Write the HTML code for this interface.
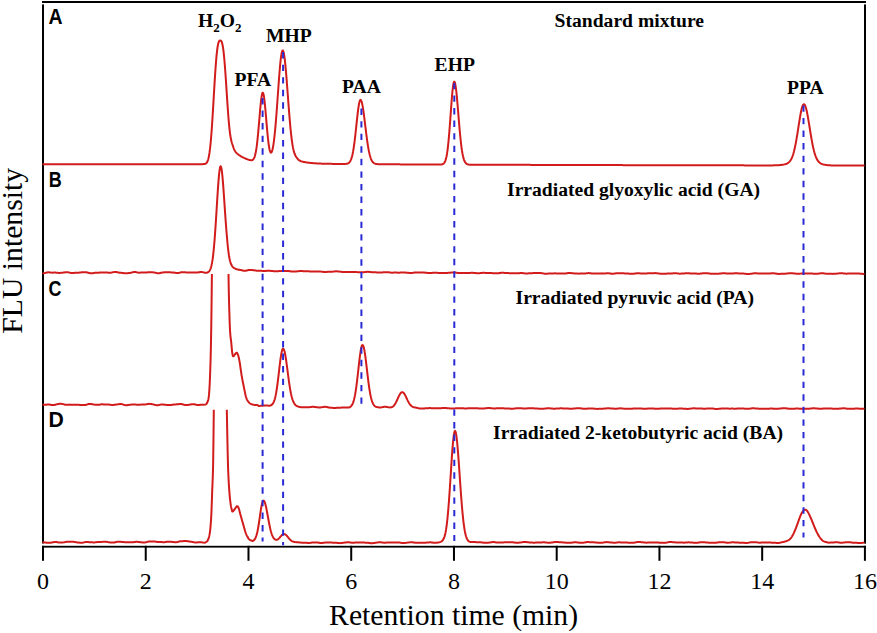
<!DOCTYPE html>
<html><head><meta charset="utf-8"><title>Chromatograms</title>
<style>html,body{margin:0;padding:0;background:#fff;}svg{display:block;}</style>
</head><body>
<svg width="877" height="633" viewBox="0 0 877 633">
<rect width="877" height="633" fill="#fff"/>
<g fill="#000">
<rect x="42" y="1" width="824" height="2"/>
<rect x="42" y="4.4" width="2" height="539.1"/>
<rect x="864" y="4.4" width="2" height="539.2"/>
<rect x="42" y="545.8" width="824" height="1.8"/>
<rect x="42.00" y="545.8" width="2" height="15"/>
<rect x="144.74" y="545.8" width="2" height="15"/>
<rect x="247.48" y="545.8" width="2" height="15"/>
<rect x="350.22" y="545.8" width="2" height="15"/>
<rect x="452.96" y="545.8" width="2" height="15"/>
<rect x="555.70" y="545.8" width="2" height="15"/>
<rect x="658.44" y="545.8" width="2" height="15"/>
<rect x="761.18" y="545.8" width="2" height="15"/>
<rect x="863.92" y="545.8" width="2" height="15"/>
</g>
<g fill="none" stroke="#d21c1c" stroke-width="2" stroke-linejoin="round" stroke-linecap="butt">
<path d="M42.50 164.20 L43.00 164.20 L43.50 164.20 L44.00 164.20 L44.50 164.20 L45.00 164.20 L45.50 164.20 L46.00 164.20 L46.50 164.20 L47.00 164.20 L47.50 164.20 L48.00 164.20 L48.50 164.20 L49.00 164.20 L49.50 164.20 L50.00 164.20 L50.50 164.20 L51.00 164.20 L51.50 164.20 L52.00 164.20 L52.50 164.20 L53.00 164.20 L53.50 164.20 L54.00 164.20 L54.50 164.20 L55.00 164.20 L55.50 164.20 L56.00 164.19 L56.50 164.19 L57.00 164.19 L57.50 164.19 L58.00 164.19 L58.50 164.19 L59.00 164.19 L59.50 164.19 L60.00 164.19 L60.50 164.19 L61.00 164.19 L61.50 164.19 L62.00 164.19 L62.50 164.19 L63.00 164.19 L63.50 164.19 L64.00 164.19 L64.50 164.19 L65.00 164.19 L65.50 164.19 L66.00 164.19 L66.50 164.19 L67.00 164.19 L67.50 164.19 L68.00 164.19 L68.50 164.19 L69.00 164.19 L69.50 164.19 L70.00 164.19 L70.50 164.19 L71.00 164.19 L71.50 164.19 L72.00 164.19 L72.50 164.19 L73.00 164.19 L73.50 164.19 L74.00 164.19 L74.50 164.19 L75.00 164.19 L75.50 164.19 L76.00 164.19 L76.50 164.19 L77.00 164.19 L77.50 164.19 L78.00 164.19 L78.50 164.19 L79.00 164.19 L79.50 164.19 L80.00 164.19 L80.50 164.19 L81.00 164.19 L81.50 164.19 L82.00 164.18 L82.50 164.18 L83.00 164.18 L83.50 164.18 L84.00 164.18 L84.50 164.18 L85.00 164.18 L85.50 164.18 L86.00 164.18 L86.50 164.18 L87.00 164.18 L87.50 164.18 L88.00 164.18 L88.50 164.18 L89.00 164.18 L89.50 164.18 L90.00 164.18 L90.50 164.18 L91.00 164.18 L91.50 164.18 L92.00 164.18 L92.50 164.18 L93.00 164.18 L93.50 164.18 L94.00 164.18 L94.50 164.18 L95.00 164.18 L95.50 164.18 L96.00 164.18 L96.50 164.18 L97.00 164.18 L97.50 164.18 L98.00 164.18 L98.50 164.18 L99.00 164.18 L99.50 164.18 L100.00 164.18 L100.50 164.18 L101.00 164.18 L101.50 164.18 L102.00 164.18 L102.50 164.18 L103.00 164.18 L103.50 164.18 L104.00 164.18 L104.50 164.18 L105.00 164.18 L105.50 164.18 L106.00 164.18 L106.50 164.18 L107.00 164.18 L107.50 164.17 L108.00 164.17 L108.50 164.17 L109.00 164.17 L109.50 164.17 L110.00 164.17 L110.50 164.17 L111.00 164.17 L111.50 164.17 L112.00 164.17 L112.50 164.17 L113.00 164.17 L113.50 164.17 L114.00 164.17 L114.50 164.17 L115.00 164.17 L115.50 164.17 L116.00 164.17 L116.50 164.17 L117.00 164.17 L117.50 164.17 L118.00 164.17 L118.50 164.17 L119.00 164.17 L119.50 164.17 L120.00 164.17 L120.50 164.17 L121.00 164.17 L121.50 164.17 L122.00 164.17 L122.50 164.17 L123.00 164.17 L123.50 164.17 L124.00 164.17 L124.50 164.17 L125.00 164.17 L125.50 164.17 L126.00 164.17 L126.50 164.17 L127.00 164.17 L127.50 164.17 L128.00 164.17 L128.50 164.17 L129.00 164.17 L129.50 164.17 L130.00 164.17 L130.50 164.17 L131.00 164.17 L131.50 164.17 L132.00 164.17 L132.50 164.17 L133.00 164.16 L133.50 164.16 L134.00 164.16 L134.50 164.16 L135.00 164.16 L135.50 164.16 L136.00 164.16 L136.50 164.16 L137.00 164.16 L137.50 164.16 L138.00 164.16 L138.50 164.16 L139.00 164.16 L139.50 164.16 L140.00 164.16 L140.50 164.16 L141.00 164.16 L141.50 164.16 L142.00 164.16 L142.50 164.16 L143.00 164.16 L143.50 164.16 L144.00 164.16 L144.50 164.16 L145.00 164.16 L145.50 164.16 L146.00 164.16 L146.50 164.16 L147.00 164.16 L147.50 164.16 L148.00 164.16 L148.50 164.16 L149.00 164.16 L149.50 164.16 L150.00 164.16 L150.50 164.16 L151.00 164.16 L151.50 164.16 L152.00 164.16 L152.50 164.16 L153.00 164.16 L153.50 164.16 L154.00 164.16 L154.50 164.16 L155.00 164.16 L155.50 164.16 L156.00 164.16 L156.50 164.16 L157.00 164.16 L157.50 164.16 L158.00 164.16 L158.50 164.16 L159.00 164.15 L159.50 164.15 L160.00 164.15 L160.50 164.15 L161.00 164.15 L161.50 164.15 L162.00 164.15 L162.50 164.15 L163.00 164.15 L163.50 164.15 L164.00 164.15 L164.50 164.15 L165.00 164.15 L165.50 164.15 L166.00 164.15 L166.50 164.15 L167.00 164.15 L167.50 164.15 L168.00 164.15 L168.50 164.15 L169.00 164.15 L169.50 164.15 L170.00 164.15 L170.50 164.15 L171.00 164.15 L171.50 164.15 L172.00 164.15 L172.50 164.15 L173.00 164.15 L173.50 164.15 L174.00 164.15 L174.50 164.15 L175.00 164.15 L175.50 164.15 L176.00 164.15 L176.50 164.15 L177.00 164.15 L177.50 164.15 L178.00 164.15 L178.50 164.15 L179.00 164.15 L179.50 164.15 L180.00 164.15 L180.50 164.15 L181.00 164.15 L181.50 164.15 L182.00 164.15 L182.50 164.15 L183.00 164.15 L183.50 164.15 L184.00 164.15 L184.50 164.14 L185.00 164.14 L185.50 164.14 L186.00 164.14 L186.50 164.14 L187.00 164.14 L187.50 164.14 L188.00 164.14 L188.50 164.14 L189.00 164.14 L189.50 164.14 L190.00 164.14 L190.50 164.14 L191.00 164.14 L191.50 164.14 L192.00 164.14 L192.50 164.14 L193.00 164.14 L193.50 164.14 L194.00 164.14 L194.50 164.14 L195.00 164.14 L195.50 164.14 L196.00 164.14 L196.50 164.14 L197.00 164.14 L197.50 164.14 L198.00 164.14 L198.50 164.14 L199.00 164.14 L199.50 164.14 L200.00 164.14 L200.50 164.14 L201.00 164.14 L201.50 164.14 L202.00 164.13 L202.50 164.13 L203.00 164.11 L203.50 164.09 L204.00 164.05 L204.50 163.99 L205.00 163.87 L205.50 163.69 L206.00 163.40 L206.50 162.95 L207.00 162.29 L207.50 161.33 L208.00 160.00 L208.50 158.19 L209.00 155.80 L209.50 152.74 L210.00 148.92 L210.50 144.29 L211.00 138.82 L211.50 132.52 L212.00 125.47 L212.50 117.77 L213.00 109.59 L213.50 101.11 L214.00 92.56 L214.50 84.16 L215.00 76.14 L215.50 68.70 L216.00 62.01 L216.50 56.20 L217.00 51.35 L217.50 47.48 L218.00 44.58 L218.50 42.57 L219.00 41.33 L219.50 40.72 L220.00 40.54 L220.50 40.55 L221.00 40.77 L221.50 41.43 L222.00 42.69 L222.50 44.67 L223.00 47.49 L223.50 51.20 L224.00 55.80 L224.50 61.26 L225.00 67.51 L225.50 74.40 L226.00 81.77 L226.50 89.41 L227.00 97.10 L227.50 104.60 L228.00 111.71 L228.50 118.24 L229.00 124.04 L229.50 129.05 L230.00 133.23 L230.50 136.62 L231.00 139.32 L231.50 141.47 L232.00 143.20 L232.50 144.68 L233.00 146.04 L233.50 147.73 L234.00 149.08 L234.50 150.16 L235.00 151.04 L235.50 151.76 L236.00 152.37 L236.50 152.91 L237.00 153.39 L237.50 153.82 L238.00 154.23 L238.50 154.61 L239.00 154.98 L239.50 155.33 L240.00 155.66 L240.50 155.98 L241.00 156.29 L241.50 156.58 L242.00 156.87 L242.50 157.14 L243.00 157.40 L243.50 157.66 L244.00 157.90 L244.50 158.13 L245.00 158.36 L245.50 158.58 L246.00 158.79 L246.50 158.99 L247.00 159.18 L247.50 159.36 L248.00 159.54 L248.50 159.70 L249.00 159.86 L249.50 159.99 L250.00 160.11 L250.50 160.20 L251.00 160.25 L251.50 160.24 L252.00 160.16 L252.50 159.96 L253.00 159.62 L253.50 159.07 L254.00 158.27 L254.50 157.14 L255.00 155.61 L255.50 153.60 L256.00 151.04 L256.50 147.89 L257.00 144.09 L257.50 139.67 L258.00 134.66 L258.50 129.17 L259.00 123.33 L259.50 117.35 L260.00 111.47 L260.50 105.96 L261.00 101.10 L261.50 97.15 L262.00 94.35 L262.50 92.85 L263.00 92.76 L263.50 94.07 L264.00 96.71 L264.50 100.52 L265.00 105.28 L265.50 110.73 L266.00 116.58 L266.50 122.55 L267.00 128.38 L267.50 133.84 L268.00 138.77 L268.50 143.02 L269.00 146.53 L269.50 149.24 L270.00 151.15 L270.50 152.28 L271.00 152.65 L271.50 152.29 L272.00 151.23 L272.50 149.49 L273.00 147.09 L273.50 144.05 L274.00 140.38 L274.50 136.09 L275.00 131.22 L275.50 125.79 L276.00 119.85 L276.50 113.47 L277.00 106.76 L277.50 99.80 L278.00 92.74 L278.50 85.73 L279.00 78.92 L279.50 72.48 L280.00 66.60 L280.50 61.42 L281.00 57.10 L281.50 53.78 L282.00 51.55 L282.50 50.48 L283.00 50.59 L283.50 51.79 L284.00 54.04 L284.50 57.28 L285.00 61.40 L285.50 66.31 L286.00 71.87 L286.50 77.95 L287.00 84.38 L287.50 91.04 L288.00 97.77 L288.50 104.44 L289.00 110.92 L289.50 117.13 L290.00 122.96 L290.50 128.35 L291.00 133.26 L291.50 137.64 L292.00 141.50 L292.50 144.82 L293.00 147.64 L293.50 149.99 L294.00 151.92 L294.50 153.49 L295.00 154.75 L295.50 155.77 L296.00 156.61 L296.50 157.33 L297.00 157.97 L297.50 158.69 L298.00 159.27 L298.50 159.76 L299.00 160.16 L299.50 160.49 L300.00 160.76 L300.50 161.00 L301.00 161.20 L301.50 161.37 L302.00 161.52 L302.50 161.66 L303.00 161.78 L303.50 161.90 L304.00 162.00 L304.50 162.10 L305.00 162.19 L305.50 162.27 L306.00 162.36 L306.50 162.43 L307.00 162.50 L307.50 162.57 L308.00 162.64 L308.50 162.70 L309.00 162.76 L309.50 162.82 L310.00 162.88 L310.50 162.93 L311.00 162.98 L311.50 163.03 L312.00 163.07 L312.50 163.11 L313.00 163.16 L313.50 163.20 L314.00 163.23 L314.50 163.27 L315.00 163.30 L315.50 163.34 L316.00 163.37 L316.50 163.40 L317.00 163.43 L317.50 163.45 L318.00 163.48 L318.50 163.50 L319.00 163.53 L319.50 163.55 L320.00 163.57 L320.50 163.59 L321.00 163.61 L321.50 163.63 L322.00 163.65 L322.50 163.67 L323.00 163.68 L323.50 163.70 L324.00 163.71 L324.50 163.73 L325.00 163.74 L325.50 163.75 L326.00 163.76 L326.50 163.78 L327.00 163.79 L327.50 163.80 L328.00 163.81 L328.50 163.82 L329.00 163.83 L329.50 163.83 L330.00 163.84 L330.50 163.85 L331.00 163.86 L331.50 163.86 L332.00 163.87 L332.50 163.88 L333.00 163.88 L333.50 163.89 L334.00 163.89 L334.50 163.90 L335.00 163.90 L335.50 163.91 L336.00 163.91 L336.50 163.92 L337.00 163.92 L337.50 163.92 L338.00 163.93 L338.50 163.93 L339.00 163.93 L339.50 163.94 L340.00 163.94 L340.50 163.94 L341.00 163.94 L341.50 163.95 L342.00 163.95 L342.50 163.95 L343.00 163.95 L343.50 163.94 L344.00 163.94 L344.50 163.93 L345.00 163.91 L345.50 163.88 L346.00 163.84 L346.50 163.77 L347.00 163.68 L347.50 163.54 L348.00 163.35 L348.50 163.08 L349.00 162.71 L349.50 162.21 L350.00 161.55 L350.50 160.69 L351.00 159.60 L351.50 158.21 L352.00 156.50 L352.50 154.43 L353.00 151.95 L353.50 149.06 L354.00 145.74 L354.50 142.01 L355.00 137.91 L355.50 133.50 L356.00 128.87 L356.50 124.14 L357.00 119.44 L357.50 114.92 L358.00 110.74 L358.50 107.05 L359.00 104.01 L359.50 101.74 L360.00 100.34 L360.50 99.87 L361.00 100.23 L361.50 101.31 L362.00 103.07 L362.50 105.44 L363.00 108.36 L363.50 111.72 L364.00 115.44 L364.50 119.41 L365.00 123.51 L365.50 127.65 L366.00 131.74 L366.50 135.69 L367.00 139.45 L367.50 142.95 L368.00 146.16 L368.50 149.05 L369.00 151.63 L369.50 153.88 L370.00 155.82 L370.50 157.47 L371.00 158.86 L371.50 160.01 L372.00 160.94 L372.50 161.70 L373.00 162.30 L373.50 162.77 L374.00 163.14 L374.50 163.42 L375.00 163.63 L375.50 163.79 L376.00 163.91 L376.50 164.00 L377.00 164.06 L377.50 164.11 L378.00 164.14 L378.50 164.17 L379.00 164.19 L379.50 164.20 L380.00 164.21 L380.50 164.22 L381.00 164.23 L381.50 164.23 L382.00 164.24 L382.50 164.24 L383.00 164.25 L383.50 164.25 L384.00 164.25 L384.50 164.26 L385.00 164.26 L385.50 164.26 L386.00 164.27 L386.50 164.27 L387.00 164.28 L387.50 164.28 L388.00 164.28 L388.50 164.29 L389.00 164.29 L389.50 164.30 L390.00 164.30 L390.50 164.30 L391.00 164.31 L391.50 164.31 L392.00 164.31 L392.50 164.32 L393.00 164.32 L393.50 164.33 L394.00 164.33 L394.50 164.33 L395.00 164.34 L395.50 164.34 L396.00 164.34 L396.50 164.35 L397.00 164.35 L397.50 164.36 L398.00 164.36 L398.50 164.36 L399.00 164.37 L399.50 164.37 L400.00 164.37 L400.50 164.38 L401.00 164.38 L401.50 164.39 L402.00 164.39 L402.50 164.39 L403.00 164.40 L403.50 164.40 L404.00 164.40 L404.50 164.41 L405.00 164.41 L405.50 164.42 L406.00 164.42 L406.50 164.42 L407.00 164.43 L407.50 164.43 L408.00 164.43 L408.50 164.44 L409.00 164.44 L409.50 164.45 L410.00 164.45 L410.50 164.45 L411.00 164.46 L411.50 164.46 L412.00 164.46 L412.50 164.47 L413.00 164.47 L413.50 164.48 L414.00 164.48 L414.50 164.48 L415.00 164.49 L415.50 164.49 L416.00 164.49 L416.50 164.50 L417.00 164.50 L417.50 164.51 L418.00 164.51 L418.50 164.51 L419.00 164.52 L419.50 164.52 L420.00 164.52 L420.50 164.53 L421.00 164.53 L421.50 164.54 L422.00 164.54 L422.50 164.54 L423.00 164.55 L423.50 164.55 L424.00 164.55 L424.50 164.56 L425.00 164.56 L425.50 164.57 L426.00 164.57 L426.50 164.57 L427.00 164.58 L427.50 164.58 L428.00 164.58 L428.50 164.59 L429.00 164.59 L429.50 164.60 L430.00 164.60 L430.50 164.60 L431.00 164.60 L431.50 164.60 L432.00 164.61 L432.50 164.61 L433.00 164.61 L433.50 164.61 L434.00 164.61 L434.50 164.61 L435.00 164.61 L435.50 164.61 L436.00 164.62 L436.50 164.62 L437.00 164.62 L437.50 164.62 L438.00 164.62 L438.50 164.62 L439.00 164.61 L439.50 164.61 L440.00 164.59 L440.50 164.57 L441.00 164.53 L441.50 164.47 L442.00 164.38 L442.50 164.23 L443.00 164.01 L443.50 163.67 L444.00 163.20 L444.50 162.52 L445.00 161.58 L445.50 160.31 L446.00 158.63 L446.50 156.46 L447.00 153.71 L447.50 150.32 L448.00 146.24 L448.50 141.44 L449.00 135.96 L449.50 129.85 L450.00 123.26 L450.50 116.35 L451.00 109.37 L451.50 102.59 L452.00 96.30 L452.50 90.82 L453.00 86.42 L453.50 83.35 L454.00 81.77 L454.50 81.72 L455.00 82.95 L455.50 85.34 L456.00 88.81 L456.50 93.19 L457.00 98.31 L457.50 103.98 L458.00 109.98 L458.50 116.12 L459.00 122.20 L459.50 128.07 L460.00 133.60 L460.50 138.68 L461.00 143.25 L461.50 147.28 L462.00 150.76 L462.50 153.71 L463.00 156.17 L463.50 158.17 L464.00 159.78 L464.50 161.04 L465.00 162.02 L465.50 162.77 L466.00 163.33 L466.50 163.74 L467.00 164.04 L467.50 164.25 L468.00 164.40 L468.50 164.51 L469.00 164.58 L469.50 164.63 L470.00 164.66 L470.50 164.68 L471.00 164.69 L471.50 164.70 L472.00 164.71 L472.50 164.71 L473.00 164.71 L473.50 164.72 L474.00 164.72 L474.50 164.72 L475.00 164.72 L475.50 164.72 L476.00 164.73 L476.50 164.73 L477.00 164.73 L477.50 164.73 L478.00 164.73 L478.50 164.73 L479.00 164.73 L479.50 164.73 L480.00 164.74 L480.50 164.74 L481.00 164.74 L481.50 164.74 L482.00 164.74 L482.50 164.74 L483.00 164.74 L483.50 164.75 L484.00 164.75 L484.50 164.75 L485.00 164.75 L485.50 164.75 L486.00 164.75 L486.50 164.75 L487.00 164.76 L487.50 164.76 L488.00 164.76 L488.50 164.76 L489.00 164.76 L489.50 164.76 L490.00 164.76 L490.50 164.76 L491.00 164.77 L491.50 164.77 L492.00 164.77 L492.50 164.77 L493.00 164.77 L493.50 164.77 L494.00 164.77 L494.50 164.78 L495.00 164.78 L495.50 164.78 L496.00 164.78 L496.50 164.78 L497.00 164.78 L497.50 164.78 L498.00 164.79 L498.50 164.79 L499.00 164.79 L499.50 164.79 L500.00 164.79 L500.50 164.79 L501.00 164.79 L501.50 164.79 L502.00 164.80 L502.50 164.80 L503.00 164.80 L503.50 164.80 L504.00 164.80 L504.50 164.80 L505.00 164.80 L505.50 164.81 L506.00 164.81 L506.50 164.81 L507.00 164.81 L507.50 164.81 L508.00 164.81 L508.50 164.81 L509.00 164.82 L509.50 164.82 L510.00 164.82 L510.50 164.82 L511.00 164.82 L511.50 164.82 L512.00 164.82 L512.50 164.82 L513.00 164.83 L513.50 164.83 L514.00 164.83 L514.50 164.83 L515.00 164.83 L515.50 164.83 L516.00 164.83 L516.50 164.84 L517.00 164.84 L517.50 164.84 L518.00 164.84 L518.50 164.84 L519.00 164.84 L519.50 164.84 L520.00 164.85 L520.50 164.85 L521.00 164.85 L521.50 164.85 L522.00 164.85 L522.50 164.85 L523.00 164.85 L523.50 164.85 L524.00 164.86 L524.50 164.86 L525.00 164.86 L525.50 164.86 L526.00 164.86 L526.50 164.86 L527.00 164.86 L527.50 164.87 L528.00 164.87 L528.50 164.87 L529.00 164.87 L529.50 164.87 L530.00 164.87 L530.50 164.87 L531.00 164.88 L531.50 164.88 L532.00 164.88 L532.50 164.88 L533.00 164.88 L533.50 164.88 L534.00 164.88 L534.50 164.88 L535.00 164.89 L535.50 164.89 L536.00 164.89 L536.50 164.89 L537.00 164.89 L537.50 164.89 L538.00 164.89 L538.50 164.90 L539.00 164.90 L539.50 164.90 L540.00 164.90 L540.50 164.90 L541.00 164.90 L541.50 164.90 L542.00 164.91 L542.50 164.91 L543.00 164.91 L543.50 164.91 L544.00 164.91 L544.50 164.91 L545.00 164.91 L545.50 164.91 L546.00 164.92 L546.50 164.92 L547.00 164.92 L547.50 164.92 L548.00 164.92 L548.50 164.92 L549.00 164.92 L549.50 164.93 L550.00 164.93 L550.50 164.93 L551.00 164.93 L551.50 164.93 L552.00 164.93 L552.50 164.93 L553.00 164.94 L553.50 164.94 L554.00 164.94 L554.50 164.94 L555.00 164.94 L555.50 164.94 L556.00 164.94 L556.50 164.94 L557.00 164.95 L557.50 164.95 L558.00 164.95 L558.50 164.95 L559.00 164.95 L559.50 164.95 L560.00 164.95 L560.50 164.96 L561.00 164.96 L561.50 164.96 L562.00 164.96 L562.50 164.96 L563.00 164.96 L563.50 164.96 L564.00 164.97 L564.50 164.97 L565.00 164.97 L565.50 164.97 L566.00 164.97 L566.50 164.97 L567.00 164.97 L567.50 164.97 L568.00 164.98 L568.50 164.98 L569.00 164.98 L569.50 164.98 L570.00 164.98 L570.50 164.98 L571.00 164.98 L571.50 164.99 L572.00 164.99 L572.50 164.99 L573.00 164.99 L573.50 164.99 L574.00 164.99 L574.50 164.99 L575.00 165.00 L575.50 165.00 L576.00 165.00 L576.50 165.00 L577.00 165.00 L577.50 165.00 L578.00 165.00 L578.50 165.00 L579.00 165.01 L579.50 165.01 L580.00 165.01 L580.50 165.01 L581.00 165.01 L581.50 165.01 L582.00 165.01 L582.50 165.02 L583.00 165.02 L583.50 165.02 L584.00 165.02 L584.50 165.02 L585.00 165.02 L585.50 165.02 L586.00 165.03 L586.50 165.03 L587.00 165.03 L587.50 165.03 L588.00 165.03 L588.50 165.03 L589.00 165.03 L589.50 165.03 L590.00 165.04 L590.50 165.04 L591.00 165.04 L591.50 165.04 L592.00 165.04 L592.50 165.04 L593.00 165.04 L593.50 165.05 L594.00 165.05 L594.50 165.05 L595.00 165.05 L595.50 165.05 L596.00 165.05 L596.50 165.05 L597.00 165.06 L597.50 165.06 L598.00 165.06 L598.50 165.06 L599.00 165.06 L599.50 165.06 L600.00 165.06 L600.50 165.06 L601.00 165.07 L601.50 165.07 L602.00 165.07 L602.50 165.07 L603.00 165.07 L603.50 165.07 L604.00 165.07 L604.50 165.08 L605.00 165.08 L605.50 165.08 L606.00 165.08 L606.50 165.08 L607.00 165.08 L607.50 165.08 L608.00 165.09 L608.50 165.09 L609.00 165.09 L609.50 165.09 L610.00 165.09 L610.50 165.09 L611.00 165.09 L611.50 165.09 L612.00 165.10 L612.50 165.10 L613.00 165.10 L613.50 165.10 L614.00 165.10 L614.50 165.10 L615.00 165.10 L615.50 165.11 L616.00 165.11 L616.50 165.11 L617.00 165.11 L617.50 165.11 L618.00 165.11 L618.50 165.11 L619.00 165.12 L619.50 165.12 L620.00 165.12 L620.50 165.12 L621.00 165.12 L621.50 165.12 L622.00 165.12 L622.50 165.12 L623.00 165.13 L623.50 165.13 L624.00 165.13 L624.50 165.13 L625.00 165.13 L625.50 165.13 L626.00 165.13 L626.50 165.14 L627.00 165.14 L627.50 165.14 L628.00 165.14 L628.50 165.14 L629.00 165.14 L629.50 165.14 L630.00 165.15 L630.50 165.15 L631.00 165.15 L631.50 165.15 L632.00 165.15 L632.50 165.15 L633.00 165.15 L633.50 165.15 L634.00 165.16 L634.50 165.16 L635.00 165.16 L635.50 165.16 L636.00 165.16 L636.50 165.16 L637.00 165.16 L637.50 165.17 L638.00 165.17 L638.50 165.17 L639.00 165.17 L639.50 165.17 L640.00 165.17 L640.50 165.17 L641.00 165.18 L641.50 165.18 L642.00 165.18 L642.50 165.18 L643.00 165.18 L643.50 165.18 L644.00 165.18 L644.50 165.18 L645.00 165.19 L645.50 165.19 L646.00 165.19 L646.50 165.19 L647.00 165.19 L647.50 165.19 L648.00 165.19 L648.50 165.20 L649.00 165.20 L649.50 165.20 L650.00 165.20 L650.50 165.20 L651.00 165.20 L651.50 165.20 L652.00 165.20 L652.50 165.20 L653.00 165.21 L653.50 165.21 L654.00 165.21 L654.50 165.21 L655.00 165.21 L655.50 165.21 L656.00 165.21 L656.50 165.21 L657.00 165.21 L657.50 165.21 L658.00 165.21 L658.50 165.22 L659.00 165.22 L659.50 165.22 L660.00 165.22 L660.50 165.22 L661.00 165.22 L661.50 165.22 L662.00 165.22 L662.50 165.22 L663.00 165.22 L663.50 165.23 L664.00 165.23 L664.50 165.23 L665.00 165.23 L665.50 165.23 L666.00 165.23 L666.50 165.23 L667.00 165.23 L667.50 165.23 L668.00 165.23 L668.50 165.23 L669.00 165.24 L669.50 165.24 L670.00 165.24 L670.50 165.24 L671.00 165.24 L671.50 165.24 L672.00 165.24 L672.50 165.24 L673.00 165.24 L673.50 165.24 L674.00 165.24 L674.50 165.25 L675.00 165.25 L675.50 165.25 L676.00 165.25 L676.50 165.25 L677.00 165.25 L677.50 165.25 L678.00 165.25 L678.50 165.25 L679.00 165.25 L679.50 165.25 L680.00 165.26 L680.50 165.26 L681.00 165.26 L681.50 165.26 L682.00 165.26 L682.50 165.26 L683.00 165.26 L683.50 165.26 L684.00 165.26 L684.50 165.26 L685.00 165.27 L685.50 165.27 L686.00 165.27 L686.50 165.27 L687.00 165.27 L687.50 165.27 L688.00 165.27 L688.50 165.27 L689.00 165.27 L689.50 165.27 L690.00 165.27 L690.50 165.28 L691.00 165.28 L691.50 165.28 L692.00 165.28 L692.50 165.28 L693.00 165.28 L693.50 165.28 L694.00 165.28 L694.50 165.28 L695.00 165.28 L695.50 165.28 L696.00 165.29 L696.50 165.29 L697.00 165.29 L697.50 165.29 L698.00 165.29 L698.50 165.29 L699.00 165.29 L699.50 165.29 L700.00 165.29 L700.50 165.29 L701.00 165.29 L701.50 165.30 L702.00 165.30 L702.50 165.30 L703.00 165.30 L703.50 165.30 L704.00 165.30 L704.50 165.30 L705.00 165.30 L705.50 165.30 L706.00 165.30 L706.50 165.31 L707.00 165.31 L707.50 165.31 L708.00 165.31 L708.50 165.31 L709.00 165.31 L709.50 165.31 L710.00 165.31 L710.50 165.31 L711.00 165.31 L711.50 165.31 L712.00 165.32 L712.50 165.32 L713.00 165.32 L713.50 165.32 L714.00 165.32 L714.50 165.32 L715.00 165.32 L715.50 165.32 L716.00 165.32 L716.50 165.32 L717.00 165.32 L717.50 165.33 L718.00 165.33 L718.50 165.33 L719.00 165.33 L719.50 165.33 L720.00 165.33 L720.50 165.33 L721.00 165.33 L721.50 165.33 L722.00 165.33 L722.50 165.33 L723.00 165.34 L723.50 165.34 L724.00 165.34 L724.50 165.34 L725.00 165.34 L725.50 165.34 L726.00 165.34 L726.50 165.34 L727.00 165.34 L727.50 165.34 L728.00 165.35 L728.50 165.35 L729.00 165.35 L729.50 165.35 L730.00 165.35 L730.50 165.35 L731.00 165.35 L731.50 165.35 L732.00 165.35 L732.50 165.35 L733.00 165.35 L733.50 165.36 L734.00 165.36 L734.50 165.36 L735.00 165.36 L735.50 165.36 L736.00 165.36 L736.50 165.36 L737.00 165.36 L737.50 165.36 L738.00 165.36 L738.50 165.36 L739.00 165.37 L739.50 165.37 L740.00 165.37 L740.50 165.37 L741.00 165.37 L741.50 165.37 L742.00 165.37 L742.50 165.37 L743.00 165.37 L743.50 165.37 L744.00 165.37 L744.50 165.38 L745.00 165.38 L745.50 165.38 L746.00 165.38 L746.50 165.38 L747.00 165.38 L747.50 165.38 L748.00 165.38 L748.50 165.38 L749.00 165.38 L749.50 165.39 L750.00 165.39 L750.50 165.39 L751.00 165.39 L751.50 165.39 L752.00 165.39 L752.50 165.39 L753.00 165.39 L753.50 165.39 L754.00 165.39 L754.50 165.39 L755.00 165.40 L755.50 165.40 L756.00 165.40 L756.50 165.40 L757.00 165.40 L757.50 165.40 L758.00 165.40 L758.50 165.40 L759.00 165.40 L759.50 165.40 L760.00 165.40 L760.50 165.41 L761.00 165.41 L761.50 165.41 L762.00 165.41 L762.50 165.41 L763.00 165.41 L763.50 165.41 L764.00 165.41 L764.50 165.41 L765.00 165.41 L765.50 165.41 L766.00 165.41 L766.50 165.41 L767.00 165.41 L767.50 165.41 L768.00 165.41 L768.50 165.41 L769.00 165.41 L769.50 165.41 L770.00 165.40 L770.50 165.40 L771.00 165.40 L771.50 165.39 L772.00 165.39 L772.50 165.38 L773.00 165.38 L773.50 165.37 L774.00 165.36 L774.50 165.35 L775.00 165.34 L775.50 165.32 L776.00 165.31 L776.50 165.29 L777.00 165.27 L777.50 165.24 L778.00 165.22 L778.50 165.19 L779.00 165.15 L779.50 165.12 L780.00 165.08 L780.50 165.03 L781.00 164.98 L781.50 164.92 L782.00 164.86 L782.50 164.79 L783.00 164.71 L783.50 164.62 L784.00 164.52 L784.50 164.40 L785.00 164.27 L785.50 164.13 L786.00 163.96 L786.50 163.76 L787.00 163.53 L787.50 163.27 L788.00 162.96 L788.50 162.59 L789.00 162.16 L789.50 161.65 L790.00 161.06 L790.50 160.36 L791.00 159.55 L791.50 158.60 L792.00 157.51 L792.50 156.25 L793.00 154.82 L793.50 153.19 L794.00 151.36 L794.50 149.33 L795.00 147.09 L795.50 144.64 L796.00 142.00 L796.50 139.17 L797.00 136.20 L797.50 133.09 L798.00 129.90 L798.50 126.67 L799.00 123.45 L799.50 120.30 L800.00 117.27 L800.50 114.42 L801.00 111.83 L801.50 109.53 L802.00 107.60 L802.50 106.06 L803.00 104.97 L803.50 104.34 L804.00 104.20 L804.50 104.51 L805.00 105.28 L805.50 106.47 L806.00 108.06 L806.50 110.02 L807.00 112.30 L807.50 114.86 L808.00 117.63 L808.50 120.58 L809.00 123.63 L809.50 126.75 L810.00 129.88 L810.50 132.97 L811.00 135.98 L811.50 138.88 L812.00 141.64 L812.50 144.24 L813.00 146.65 L813.50 148.88 L814.00 150.91 L814.50 152.74 L815.00 154.39 L815.50 155.86 L816.00 157.15 L816.50 158.29 L817.00 159.27 L817.50 160.13 L818.00 160.87 L818.50 161.51 L819.00 162.05 L819.50 162.51 L820.00 162.91 L820.50 163.25 L821.00 163.54 L821.50 163.79 L822.00 164.00 L822.50 164.18 L823.00 164.34 L823.50 164.48 L824.00 164.60 L824.50 164.71 L825.00 164.80 L825.50 164.88 L826.00 164.96 L826.50 165.02 L827.00 165.08 L827.50 165.13 L828.00 165.18 L828.50 165.22 L829.00 165.26 L829.50 165.29 L830.00 165.32 L830.50 165.35 L831.00 165.38 L831.50 165.40 L832.00 165.42 L832.50 165.43 L833.00 165.45 L833.50 165.46 L834.00 165.47 L834.50 165.48 L835.00 165.49 L835.50 165.50 L836.00 165.51 L836.50 165.52 L837.00 165.52 L837.50 165.53 L838.00 165.53 L838.50 165.53 L839.00 165.54 L839.50 165.54 L840.00 165.54 L840.50 165.55 L841.00 165.55 L841.50 165.55 L842.00 165.55 L842.50 165.55 L843.00 165.56 L843.50 165.56 L844.00 165.56 L844.50 165.56 L845.00 165.56 L845.50 165.56 L846.00 165.56 L846.50 165.56 L847.00 165.57 L847.50 165.57 L848.00 165.57 L848.50 165.57 L849.00 165.57 L849.50 165.57 L850.00 165.57 L850.50 165.57 L851.00 165.57 L851.50 165.57 L852.00 165.58 L852.50 165.58 L853.00 165.58 L853.50 165.58 L854.00 165.58 L854.50 165.58 L855.00 165.58 L855.50 165.58 L856.00 165.58 L856.50 165.58 L857.00 165.59 L857.50 165.59 L858.00 165.59 L858.50 165.59 L859.00 165.59 L859.50 165.59 L860.00 165.59 L860.50 165.59 L861.00 165.59 L861.50 165.59 L862.00 165.59 L862.50 165.60 L863.00 165.60 L863.50 165.60 L864.00 165.60 L864.50 165.60"/>
<path d="M42.50 273.38 L43.00 273.36 L43.50 273.31 L44.00 273.24 L44.50 273.13 L45.00 273.01 L45.50 272.87 L46.00 272.72 L46.50 272.59 L47.00 272.47 L47.50 272.39 L48.00 272.34 L48.50 272.33 L49.00 272.35 L49.50 272.40 L50.00 272.46 L50.50 272.53 L51.00 272.58 L51.50 272.62 L52.00 272.64 L52.50 272.64 L53.00 272.63 L53.50 272.61 L54.00 272.59 L54.50 272.57 L55.00 272.58 L55.50 272.60 L56.00 272.64 L56.50 272.69 L57.00 272.75 L57.50 272.81 L58.00 272.85 L58.50 272.88 L59.00 272.90 L59.50 272.90 L60.00 272.88 L60.50 272.86 L61.00 272.82 L61.50 272.78 L62.00 272.73 L62.50 272.69 L63.00 272.63 L63.50 272.57 L64.00 272.51 L64.50 272.43 L65.00 272.36 L65.50 272.29 L66.00 272.24 L66.50 272.21 L67.00 272.20 L67.50 272.23 L68.00 272.30 L68.50 272.39 L69.00 272.51 L69.50 272.65 L70.00 272.78 L70.50 272.90 L71.00 272.99 L71.50 273.05 L72.00 273.08 L72.50 273.06 L73.00 273.03 L73.50 272.97 L74.00 272.91 L74.50 272.85 L75.00 272.80 L75.50 272.77 L76.00 272.75 L76.50 272.74 L77.00 272.74 L77.50 272.73 L78.00 272.71 L78.50 272.68 L79.00 272.64 L79.50 272.58 L80.00 272.52 L80.50 272.45 L81.00 272.39 L81.50 272.33 L82.00 272.28 L82.50 272.25 L83.00 272.23 L83.50 272.21 L84.00 272.21 L84.50 272.22 L85.00 272.23 L85.50 272.26 L86.00 272.30 L86.50 272.36 L87.00 272.44 L87.50 272.54 L88.00 272.66 L88.50 272.80 L89.00 272.95 L89.50 273.08 L90.00 273.20 L90.50 273.30 L91.00 273.35 L91.50 273.36 L92.00 273.33 L92.50 273.26 L93.00 273.16 L93.50 273.05 L94.00 272.94 L94.50 272.85 L95.00 272.77 L95.50 272.71 L96.00 272.68 L96.50 272.67 L97.00 272.67 L97.50 272.67 L98.00 272.67 L98.50 272.65 L99.00 272.63 L99.50 272.59 L100.00 272.54 L100.50 272.50 L101.00 272.45 L101.50 272.42 L102.00 272.40 L102.50 272.39 L103.00 272.40 L103.50 272.41 L104.00 272.43 L104.50 272.45 L105.00 272.48 L105.50 272.50 L106.00 272.52 L106.50 272.55 L107.00 272.57 L107.50 272.61 L108.00 272.65 L108.50 272.69 L109.00 272.73 L109.50 272.75 L110.00 272.76 L110.50 272.74 L111.00 272.68 L111.50 272.60 L112.00 272.49 L112.50 272.36 L113.00 272.23 L113.50 272.11 L114.00 272.01 L114.50 271.95 L115.00 271.93 L115.50 271.95 L116.00 272.01 L116.50 272.09 L117.00 272.20 L117.50 272.31 L118.00 272.43 L118.50 272.53 L119.00 272.61 L119.50 272.68 L120.00 272.73 L120.50 272.77 L121.00 272.82 L121.50 272.86 L122.00 272.91 L122.50 272.96 L123.00 273.02 L123.50 273.08 L124.00 273.13 L124.50 273.17 L125.00 273.20 L125.50 273.22 L126.00 273.22 L126.50 273.20 L127.00 273.18 L127.50 273.16 L128.00 273.13 L128.50 273.09 L129.00 273.05 L129.50 272.99 L130.00 272.92 L130.50 272.84 L131.00 272.73 L131.50 272.61 L132.00 272.47 L132.50 272.34 L133.00 272.21 L133.50 272.11 L134.00 272.04 L134.50 272.00 L135.00 272.01 L135.50 272.07 L136.00 272.15 L136.50 272.25 L137.00 272.37 L137.50 272.48 L138.00 272.56 L138.50 272.63 L139.00 272.66 L139.50 272.67 L140.00 272.65 L140.50 272.62 L141.00 272.58 L141.50 272.55 L142.00 272.52 L142.50 272.50 L143.00 272.49 L143.50 272.48 L144.00 272.48 L144.50 272.48 L145.00 272.47 L145.50 272.45 L146.00 272.43 L146.50 272.41 L147.00 272.39 L147.50 272.37 L148.00 272.35 L148.50 272.35 L149.00 272.35 L149.50 272.36 L150.00 272.36 L150.50 272.37 L151.00 272.37 L151.50 272.36 L152.00 272.35 L152.50 272.35 L153.00 272.36 L153.50 272.39 L154.00 272.44 L154.50 272.52 L155.00 272.62 L155.50 272.75 L156.00 272.89 L156.50 273.02 L157.00 273.14 L157.50 273.23 L158.00 273.28 L158.50 273.29 L159.00 273.25 L159.50 273.18 L160.00 273.07 L160.50 272.95 L161.00 272.82 L161.50 272.70 L162.00 272.60 L162.50 272.51 L163.00 272.44 L163.50 272.40 L164.00 272.36 L164.50 272.34 L165.00 272.31 L165.50 272.29 L166.00 272.26 L166.50 272.24 L167.00 272.22 L167.50 272.22 L168.00 272.22 L168.50 272.23 L169.00 272.26 L169.50 272.29 L170.00 272.33 L170.50 272.37 L171.00 272.40 L171.50 272.44 L172.00 272.47 L172.50 272.49 L173.00 272.53 L173.50 272.57 L174.00 272.62 L174.50 272.69 L175.00 272.77 L175.50 272.85 L176.00 272.94 L176.50 273.01 L177.00 273.06 L177.50 273.07 L178.00 273.05 L178.50 272.98 L179.00 272.88 L179.50 272.75 L180.00 272.61 L180.50 272.47 L181.00 272.34 L181.50 272.24 L182.00 272.17 L182.50 272.13 L183.00 272.13 L183.50 272.15 L184.00 272.19 L184.50 272.25 L185.00 272.30 L185.50 272.35 L186.00 272.39 L186.50 272.42 L187.00 272.45 L187.50 272.47 L188.00 272.49 L188.50 272.52 L189.00 272.54 L189.50 272.57 L190.00 272.59 L190.50 272.60 L191.00 272.61 L191.50 272.61 L192.00 272.59 L192.50 272.57 L193.00 272.54 L193.50 272.52 L194.00 272.50 L194.50 272.50 L195.00 272.50 L195.50 272.51 L196.00 272.52 L196.50 272.52 L197.00 272.51 L197.50 272.48 L198.00 272.43 L198.50 272.35 L199.00 272.26 L199.50 272.17 L200.00 272.08 L200.50 272.01 L201.00 271.98 L201.50 271.98 L202.00 272.02 L202.50 272.11 L203.00 272.23 L203.50 272.37 L204.00 272.52 L204.50 272.66 L205.00 272.78 L205.50 272.82 L206.00 272.82 L206.50 272.78 L207.00 272.67 L207.50 272.51 L208.00 272.27 L208.50 271.93 L209.00 271.46 L209.50 270.82 L210.00 269.96 L210.50 268.83 L211.00 267.34 L211.50 265.42 L212.00 262.98 L212.50 259.96 L213.00 256.29 L213.50 251.90 L214.00 246.76 L214.50 240.87 L215.00 234.28 L215.50 227.07 L216.00 219.37 L216.50 211.33 L217.00 203.18 L217.50 195.19 L218.00 187.65 L218.50 180.85 L219.00 175.09 L219.50 170.62 L220.00 167.65 L220.50 166.31 L221.00 166.66 L221.50 168.65 L222.00 172.17 L222.50 177.00 L223.00 182.90 L223.50 189.57 L224.00 196.73 L224.50 204.09 L225.00 211.43 L225.50 218.57 L226.00 225.35 L226.50 231.71 L227.00 237.59 L227.50 243.28 L228.00 248.17 L228.50 252.30 L229.00 255.73 L229.50 258.54 L230.00 260.80 L230.50 262.60 L231.00 264.01 L231.50 265.12 L232.00 265.98 L232.50 266.64 L233.00 267.16 L233.50 267.58 L234.00 267.93 L234.50 268.22 L235.00 268.49 L235.50 268.73 L236.00 268.95 L236.50 269.15 L237.00 269.32 L237.50 269.48 L238.00 269.60 L238.50 269.70 L239.00 269.78 L239.50 269.85 L240.00 269.91 L240.50 269.99 L241.00 270.09 L241.50 270.20 L242.00 270.32 L242.50 270.44 L243.00 270.57 L243.50 270.68 L244.00 270.76 L244.50 270.80 L245.00 270.81 L245.50 270.77 L246.00 270.69 L246.50 270.58 L247.00 270.46 L247.50 270.32 L248.00 270.20 L248.50 270.09 L249.00 270.01 L249.50 269.95 L250.00 269.93 L250.50 269.93 L251.00 269.95 L251.50 269.98 L252.00 270.03 L252.50 270.08 L253.00 270.13 L253.50 270.20 L254.00 270.27 L254.50 270.34 L255.00 270.42 L255.50 270.51 L256.00 270.60 L256.50 270.67 L257.00 270.74 L257.50 270.79 L258.00 270.83 L258.50 270.84 L259.00 270.84 L259.50 270.83 L260.00 270.80 L260.50 270.81 L261.00 270.81 L261.50 270.83 L262.00 270.86 L262.50 270.89 L263.00 270.92 L263.50 270.94 L264.00 270.96 L264.50 270.96 L265.00 270.95 L265.50 270.92 L266.00 270.88 L266.50 270.83 L267.00 270.78 L267.50 270.74 L268.00 270.71 L268.50 270.69 L269.00 270.70 L269.50 270.73 L270.00 270.77 L270.50 270.83 L271.00 270.89 L271.50 270.96 L272.00 271.02 L272.50 271.07 L273.00 271.12 L273.50 271.15 L274.00 271.18 L274.50 271.20 L275.00 271.22 L275.50 271.23 L276.00 271.23 L276.50 271.23 L277.00 271.21 L277.50 271.19 L278.00 271.17 L278.50 271.13 L279.00 271.09 L279.50 271.04 L280.00 271.01 L280.50 270.97 L281.00 270.95 L281.50 270.94 L282.00 270.95 L282.50 270.96 L283.00 270.98 L283.50 271.00 L284.00 271.02 L284.50 271.03 L285.00 271.03 L285.50 271.02 L286.00 271.01 L286.50 270.99 L287.00 270.98 L287.50 270.98 L288.00 271.00 L288.50 271.03 L289.00 271.08 L289.50 271.15 L290.00 271.23 L290.50 271.31 L291.00 271.39 L291.50 271.45 L292.00 271.51 L292.50 271.55 L293.00 271.57 L293.50 271.57 L294.00 271.56 L294.50 271.53 L295.00 271.50 L295.50 271.46 L296.00 271.42 L296.50 271.38 L297.00 271.34 L297.50 271.29 L298.00 271.24 L298.50 271.20 L299.00 271.15 L299.50 271.11 L300.00 271.08 L300.50 271.06 L301.00 271.06 L301.50 271.06 L302.00 271.09 L302.50 271.12 L303.00 271.15 L303.50 271.19 L304.00 271.22 L304.50 271.24 L305.00 271.26 L305.50 271.26 L306.00 271.26 L306.50 271.25 L307.00 271.25 L307.50 271.25 L308.00 271.27 L308.50 271.30 L309.00 271.34 L309.50 271.40 L310.00 271.45 L310.50 271.51 L311.00 271.56 L311.50 271.60 L312.00 271.62 L312.50 271.62 L313.00 271.61 L313.50 271.58 L314.00 271.54 L314.50 271.50 L315.00 271.46 L315.50 271.43 L316.00 271.40 L316.50 271.39 L317.00 271.38 L317.50 271.39 L318.00 271.40 L318.50 271.42 L319.00 271.45 L319.50 271.48 L320.00 271.52 L320.50 271.56 L321.00 271.62 L321.50 271.67 L322.00 271.74 L322.50 271.80 L323.00 271.86 L323.50 271.92 L324.00 271.96 L324.50 271.98 L325.00 271.98 L325.50 271.97 L326.00 271.95 L326.50 271.91 L327.00 271.88 L327.50 271.84 L328.00 271.82 L328.50 271.80 L329.00 271.79 L329.50 271.79 L330.00 271.80 L330.50 271.80 L331.00 271.79 L331.50 271.77 L332.00 271.73 L332.50 271.68 L333.00 271.62 L333.50 271.56 L334.00 271.49 L334.50 271.43 L335.00 271.39 L335.50 271.35 L336.00 271.34 L336.50 271.35 L337.00 271.37 L337.50 271.41 L338.00 271.45 L338.50 271.50 L339.00 271.56 L339.50 271.61 L340.00 271.67 L340.50 271.73 L341.00 271.78 L341.50 271.84 L342.00 271.89 L342.50 271.94 L343.00 271.99 L343.50 272.02 L344.00 272.03 L344.50 272.04 L345.00 272.03 L345.50 272.00 L346.00 271.97 L346.50 271.94 L347.00 271.91 L347.50 271.89 L348.00 271.88 L348.50 271.88 L349.00 271.90 L349.50 271.93 L350.00 271.96 L350.50 271.99 L351.00 272.02 L351.50 272.04 L352.00 272.05 L352.50 272.05 L353.00 272.03 L353.50 272.02 L354.00 272.00 L354.50 271.99 L355.00 271.99 L355.50 272.00 L356.00 272.03 L356.50 272.07 L357.00 272.13 L357.50 272.18 L358.00 272.23 L358.50 272.28 L359.00 272.32 L359.50 272.35 L360.00 272.36 L360.50 272.37 L361.00 272.36 L361.50 272.35 L362.00 272.32 L362.50 272.30 L363.00 272.26 L363.50 272.22 L364.00 272.18 L364.50 272.12 L365.00 272.06 L365.50 272.00 L366.00 271.95 L366.50 271.90 L367.00 271.86 L367.50 271.84 L368.00 271.84 L368.50 271.85 L369.00 271.89 L369.50 271.94 L370.00 272.00 L370.50 272.06 L371.00 272.11 L371.50 272.16 L372.00 272.19 L372.50 272.21 L373.00 272.22 L373.50 272.23 L374.00 272.23 L374.50 272.24 L375.00 272.26 L375.50 272.29 L376.00 272.33 L376.50 272.38 L377.00 272.44 L377.50 272.49 L378.00 272.53 L378.50 272.56 L379.00 272.58 L379.50 272.58 L380.00 272.57 L380.50 272.54 L381.00 272.50 L381.50 272.46 L382.00 272.42 L382.50 272.38 L383.00 272.34 L383.50 272.30 L384.00 272.27 L384.50 272.24 L385.00 272.21 L385.50 272.19 L386.00 272.18 L386.50 272.17 L387.00 272.18 L387.50 272.20 L388.00 272.24 L388.50 272.29 L389.00 272.36 L389.50 272.43 L390.00 272.49 L390.50 272.56 L391.00 272.61 L391.50 272.64 L392.00 272.65 L392.50 272.65 L393.00 272.64 L393.50 272.61 L394.00 272.59 L394.50 272.57 L395.00 272.55 L395.50 272.55 L396.00 272.56 L396.50 272.58 L397.00 272.61 L397.50 272.63 L398.00 272.65 L398.50 272.66 L399.00 272.66 L399.50 272.64 L400.00 272.62 L400.50 272.59 L401.00 272.55 L401.50 272.52 L402.00 272.50 L402.50 272.49 L403.00 272.48 L403.50 272.49 L404.00 272.51 L404.50 272.53 L405.00 272.56 L405.50 272.59 L406.00 272.63 L406.50 272.67 L407.00 272.71 L407.50 272.76 L408.00 272.81 L408.50 272.86 L409.00 272.91 L409.50 272.95 L410.00 272.99 L410.50 273.01 L411.00 273.00 L411.50 272.98 L412.00 272.94 L412.50 272.88 L413.00 272.80 L413.50 272.73 L414.00 272.65 L414.50 272.58 L415.00 272.53 L415.50 272.49 L416.00 272.47 L416.50 272.46 L417.00 272.47 L417.50 272.47 L418.00 272.48 L418.50 272.48 L419.00 272.47 L419.50 272.46 L420.00 272.44 L420.50 272.42 L421.00 272.40 L421.50 272.39 L422.00 272.39 L422.50 272.41 L423.00 272.44 L423.50 272.48 L424.00 272.53 L424.50 272.58 L425.00 272.64 L425.50 272.69 L426.00 272.74 L426.50 272.79 L427.00 272.84 L427.50 272.88 L428.00 272.91 L428.50 272.95 L429.00 272.97 L429.50 272.99 L430.00 273.00 L430.50 273.00 L431.00 272.98 L431.50 272.95 L432.00 272.90 L432.50 272.85 L433.00 272.80 L433.50 272.75 L434.00 272.71 L434.50 272.68 L435.00 272.67 L435.50 272.69 L436.00 272.72 L436.50 272.77 L437.00 272.82 L437.50 272.87 L438.00 272.92 L438.50 272.96 L439.00 272.98 L439.50 272.99 L440.00 272.99 L440.50 272.97 L441.00 272.96 L441.50 272.95 L442.00 272.94 L442.50 272.94 L443.00 272.94 L443.50 272.95 L444.00 272.97 L444.50 272.98 L445.00 272.98 L445.50 272.98 L446.00 272.97 L446.50 272.95 L447.00 272.92 L447.50 272.89 L448.00 272.85 L448.50 272.81 L449.00 272.77 L449.50 272.73 L450.00 272.68 L450.50 272.64 L451.00 272.60 L451.50 272.55 L452.00 272.51 L452.50 272.47 L453.00 272.44 L453.50 272.42 L454.00 272.42 L454.50 272.44 L455.00 272.49 L455.50 272.55 L456.00 272.63 L456.50 272.72 L457.00 272.81 L457.50 272.89 L458.00 272.97 L458.50 273.03 L459.00 273.06 L459.50 273.08 L460.00 273.08 L460.50 273.08 L461.00 273.06 L461.50 273.05 L462.00 273.04 L462.50 273.04 L463.00 273.05 L463.50 273.06 L464.00 273.07 L464.50 273.08 L465.00 273.09 L465.50 273.09 L466.00 273.08 L466.50 273.06 L467.00 273.03 L467.50 273.00 L468.00 272.97 L468.50 272.95 L469.00 272.92 L469.50 272.90 L470.00 272.89 L470.50 272.88 L471.00 272.87 L471.50 272.86 L472.00 272.86 L472.50 272.86 L473.00 272.87 L473.50 272.88 L474.00 272.90 L474.50 272.94 L475.00 272.99 L475.50 273.04 L476.00 273.10 L476.50 273.16 L477.00 273.21 L477.50 273.24 L478.00 273.26 L478.50 273.25 L479.00 273.22 L479.50 273.18 L480.00 273.12 L480.50 273.05 L481.00 272.98 L481.50 272.93 L482.00 272.88 L482.50 272.85 L483.00 272.84 L483.50 272.84 L484.00 272.85 L484.50 272.86 L485.00 272.88 L485.50 272.89 L486.00 272.90 L486.50 272.91 L487.00 272.91 L487.50 272.91 L488.00 272.91 L488.50 272.92 L489.00 272.94 L489.50 272.96 L490.00 272.99 L490.50 273.02 L491.00 273.05 L491.50 273.09 L492.00 273.12 L492.50 273.15 L493.00 273.17 L493.50 273.20 L494.00 273.22 L494.50 273.25 L495.00 273.28 L495.50 273.30 L496.00 273.32 L496.50 273.34 L497.00 273.34 L497.50 273.33 L498.00 273.29 L498.50 273.24 L499.00 273.17 L499.50 273.09 L500.00 273.01 L500.50 272.93 L501.00 272.86 L501.50 272.80 L502.00 272.77 L502.50 272.76 L503.00 272.77 L503.50 272.80 L504.00 272.84 L504.50 272.89 L505.00 272.94 L505.50 272.98 L506.00 273.02 L506.50 273.05 L507.00 273.07 L507.50 273.09 L508.00 273.10 L508.50 273.12 L509.00 273.14 L509.50 273.16 L510.00 273.19 L510.50 273.23 L511.00 273.26 L511.50 273.28 L512.00 273.31 L512.50 273.33 L513.00 273.34 L513.50 273.34 L514.00 273.35 L514.50 273.35 L515.00 273.35 L515.50 273.36 L516.00 273.36 L516.50 273.35 L517.00 273.34 L517.50 273.32 L518.00 273.29 L518.50 273.25 L519.00 273.21 L519.50 273.16 L520.00 273.11 L520.50 273.08 L521.00 273.05 L521.50 273.05 L522.00 273.07 L522.50 273.11 L523.00 273.17 L523.50 273.23 L524.00 273.30 L524.50 273.37 L525.00 273.42 L525.50 273.46 L526.00 273.48 L526.50 273.48 L527.00 273.46 L527.50 273.43 L528.00 273.40 L528.50 273.36 L529.00 273.32 L529.50 273.29 L530.00 273.26 L530.50 273.24 L531.00 273.21 L531.50 273.19 L532.00 273.16 L532.50 273.14 L533.00 273.11 L533.50 273.07 L534.00 273.05 L534.50 273.02 L535.00 273.00 L535.50 272.99 L536.00 272.98 L536.50 272.98 L537.00 272.99 L537.50 272.99 L538.00 272.99 L538.50 272.99 L539.00 272.99 L539.50 273.00 L540.00 273.01 L540.50 273.04 L541.00 273.08 L541.50 273.13 L542.00 273.21 L542.50 273.29 L543.00 273.38 L543.50 273.48 L544.00 273.57 L544.50 273.64 L545.00 273.69 L545.50 273.72 L546.00 273.73 L546.50 273.71 L547.00 273.68 L547.50 273.63 L548.00 273.58 L548.50 273.53 L549.00 273.49 L549.50 273.46 L550.00 273.43 L550.50 273.42 L551.00 273.41 L551.50 273.41 L552.00 273.41 L552.50 273.40 L553.00 273.39 L553.50 273.39 L554.00 273.38 L554.50 273.37 L555.00 273.37 L555.50 273.37 L556.00 273.38 L556.50 273.39 L557.00 273.40 L557.50 273.41 L558.00 273.41 L558.50 273.41 L559.00 273.41 L559.50 273.41 L560.00 273.40 L560.50 273.40 L561.00 273.40 L561.50 273.42 L562.00 273.44 L562.50 273.46 L563.00 273.49 L563.50 273.51 L564.00 273.52 L564.50 273.52 L565.00 273.50 L565.50 273.46 L566.00 273.40 L566.50 273.33 L567.00 273.25 L567.50 273.18 L568.00 273.11 L568.50 273.06 L569.00 273.03 L569.50 273.02 L570.00 273.03 L570.50 273.06 L571.00 273.10 L571.50 273.15 L572.00 273.20 L572.50 273.25 L573.00 273.30 L573.50 273.34 L574.00 273.38 L574.50 273.42 L575.00 273.45 L575.50 273.49 L576.00 273.52 L576.50 273.56 L577.00 273.58 L577.50 273.61 L578.00 273.62 L578.50 273.63 L579.00 273.63 L579.50 273.62 L580.00 273.61 L580.50 273.60 L581.00 273.59 L581.50 273.58 L582.00 273.57 L582.50 273.57 L583.00 273.57 L583.50 273.56 L584.00 273.55 L584.50 273.52 L585.00 273.48 L585.50 273.43 L586.00 273.37 L586.50 273.30 L587.00 273.23 L587.50 273.18 L588.00 273.14 L588.50 273.11 L589.00 273.12 L589.50 273.14 L590.00 273.19 L590.50 273.25 L591.00 273.32 L591.50 273.39 L592.00 273.45 L592.50 273.51 L593.00 273.55 L593.50 273.57 L594.00 273.59 L594.50 273.59 L595.00 273.59 L595.50 273.58 L596.00 273.57 L596.50 273.57 L597.00 273.55 L597.50 273.54 L598.00 273.52 L598.50 273.50 L599.00 273.48 L599.50 273.45 L600.00 273.43 L600.50 273.41 L601.00 273.39 L601.50 273.38 L602.00 273.37 L602.50 273.38 L603.00 273.39 L603.50 273.39 L604.00 273.40 L604.50 273.40 L605.00 273.39 L605.50 273.38 L606.00 273.36 L606.50 273.33 L607.00 273.31 L607.50 273.30 L608.00 273.31 L608.50 273.33 L609.00 273.36 L609.50 273.41 L610.00 273.47 L610.50 273.54 L611.00 273.60 L611.50 273.65 L612.00 273.68 L612.50 273.69 L613.00 273.68 L613.50 273.65 L614.00 273.61 L614.50 273.55 L615.00 273.49 L615.50 273.42 L616.00 273.37 L616.50 273.32 L617.00 273.27 L617.50 273.23 L618.00 273.20 L618.50 273.18 L619.00 273.16 L619.50 273.14 L620.00 273.14 L620.50 273.14 L621.00 273.14 L621.50 273.16 L622.00 273.19 L622.50 273.23 L623.00 273.27 L623.50 273.32 L624.00 273.36 L624.50 273.40 L625.00 273.43 L625.50 273.45 L626.00 273.47 L626.50 273.49 L627.00 273.50 L627.50 273.52 L628.00 273.54 L628.50 273.58 L629.00 273.63 L629.50 273.68 L630.00 273.74 L630.50 273.79 L631.00 273.83 L631.50 273.85 L632.00 273.86 L632.50 273.84 L633.00 273.79 L633.50 273.74 L634.00 273.66 L634.50 273.59 L635.00 273.52 L635.50 273.45 L636.00 273.40 L636.50 273.36 L637.00 273.34 L637.50 273.33 L638.00 273.33 L638.50 273.34 L639.00 273.35 L639.50 273.36 L640.00 273.38 L640.50 273.39 L641.00 273.41 L641.50 273.43 L642.00 273.45 L642.50 273.48 L643.00 273.50 L643.50 273.51 L644.00 273.52 L644.50 273.52 L645.00 273.51 L645.50 273.49 L646.00 273.46 L646.50 273.43 L647.00 273.39 L647.50 273.36 L648.00 273.34 L648.50 273.33 L649.00 273.32 L649.50 273.33 L650.00 273.34 L650.50 273.35 L651.00 273.36 L651.50 273.35 L652.00 273.34 L652.50 273.31 L653.00 273.27 L653.50 273.22 L654.00 273.18 L654.50 273.14 L655.00 273.12 L655.50 273.11 L656.00 273.13 L656.50 273.17 L657.00 273.22 L657.50 273.29 L658.00 273.37 L658.50 273.45 L659.00 273.53 L659.50 273.60 L660.00 273.66 L660.50 273.71 L661.00 273.75 L661.50 273.79 L662.00 273.81 L662.50 273.83 L663.00 273.84 L663.50 273.84 L664.00 273.83 L664.50 273.81 L665.00 273.78 L665.50 273.74 L666.00 273.69 L666.50 273.64 L667.00 273.59 L667.50 273.54 L668.00 273.50 L668.50 273.48 L669.00 273.46 L669.50 273.46 L670.00 273.46 L670.50 273.46 L671.00 273.46 L671.50 273.45 L672.00 273.43 L672.50 273.40 L673.00 273.37 L673.50 273.33 L674.00 273.29 L674.50 273.27 L675.00 273.25 L675.50 273.26 L676.00 273.28 L676.50 273.32 L677.00 273.38 L677.50 273.44 L678.00 273.50 L678.50 273.55 L679.00 273.60 L679.50 273.63 L680.00 273.64 L680.50 273.63 L681.00 273.62 L681.50 273.59 L682.00 273.56 L682.50 273.53 L683.00 273.49 L683.50 273.46 L684.00 273.42 L684.50 273.39 L685.00 273.35 L685.50 273.32 L686.00 273.29 L686.50 273.27 L687.00 273.25 L687.50 273.25 L688.00 273.26 L688.50 273.28 L689.00 273.32 L689.50 273.36 L690.00 273.41 L690.50 273.46 L691.00 273.51 L691.50 273.55 L692.00 273.57 L692.50 273.58 L693.00 273.58 L693.50 273.57 L694.00 273.56 L694.50 273.55 L695.00 273.55 L695.50 273.57 L696.00 273.59 L696.50 273.62 L697.00 273.66 L697.50 273.69 L698.00 273.72 L698.50 273.73 L699.00 273.73 L699.50 273.71 L700.00 273.67 L700.50 273.61 L701.00 273.55 L701.50 273.48 L702.00 273.42 L702.50 273.36 L703.00 273.30 L703.50 273.27 L704.00 273.24 L704.50 273.22 L705.00 273.21 L705.50 273.22 L706.00 273.22 L706.50 273.24 L707.00 273.27 L707.50 273.30 L708.00 273.35 L708.50 273.40 L709.00 273.47 L709.50 273.53 L710.00 273.59 L710.50 273.65 L711.00 273.70 L711.50 273.73 L712.00 273.74 L712.50 273.74 L713.00 273.73 L713.50 273.70 L714.00 273.68 L714.50 273.65 L715.00 273.64 L715.50 273.63 L716.00 273.63 L716.50 273.64 L717.00 273.66 L717.50 273.67 L718.00 273.68 L718.50 273.67 L719.00 273.65 L719.50 273.61 L720.00 273.57 L720.50 273.51 L721.00 273.45 L721.50 273.39 L722.00 273.34 L722.50 273.31 L723.00 273.29 L723.50 273.28 L724.00 273.29 L724.50 273.31 L725.00 273.34 L725.50 273.37 L726.00 273.41 L726.50 273.44 L727.00 273.48 L727.50 273.51 L728.00 273.54 L728.50 273.57 L729.00 273.59 L729.50 273.61 L730.00 273.62 L730.50 273.62 L731.00 273.61 L731.50 273.59 L732.00 273.55 L732.50 273.50 L733.00 273.45 L733.50 273.39 L734.00 273.34 L734.50 273.29 L735.00 273.26 L735.50 273.25 L736.00 273.26 L736.50 273.28 L737.00 273.31 L737.50 273.34 L738.00 273.37 L738.50 273.40 L739.00 273.42 L739.50 273.43 L740.00 273.43 L740.50 273.42 L741.00 273.42 L741.50 273.42 L742.00 273.43 L742.50 273.46 L743.00 273.50 L743.50 273.56 L744.00 273.62 L744.50 273.69 L745.00 273.76 L745.50 273.82 L746.00 273.87 L746.50 273.91 L747.00 273.93 L747.50 273.95 L748.00 273.95 L748.50 273.94 L749.00 273.92 L749.50 273.89 L750.00 273.86 L750.50 273.81 L751.00 273.76 L751.50 273.70 L752.00 273.63 L752.50 273.56 L753.00 273.49 L753.50 273.42 L754.00 273.36 L754.50 273.32 L755.00 273.29 L755.50 273.28 L756.00 273.30 L756.50 273.32 L757.00 273.36 L757.50 273.39 L758.00 273.42 L758.50 273.45 L759.00 273.46 L759.50 273.45 L760.00 273.44 L760.50 273.42 L761.00 273.40 L761.50 273.39 L762.00 273.38 L762.50 273.39 L763.00 273.41 L763.50 273.44 L764.00 273.47 L764.50 273.51 L765.00 273.54 L765.50 273.57 L766.00 273.58 L766.50 273.58 L767.00 273.57 L767.50 273.55 L768.00 273.52 L768.50 273.49 L769.00 273.46 L769.50 273.43 L770.00 273.40 L770.50 273.38 L771.00 273.36 L771.50 273.35 L772.00 273.34 L772.50 273.33 L773.00 273.34 L773.50 273.35 L774.00 273.37 L774.50 273.41 L775.00 273.46 L775.50 273.52 L776.00 273.59 L776.50 273.67 L777.00 273.74 L777.50 273.81 L778.00 273.86 L778.50 273.90 L779.00 273.91 L779.50 273.90 L780.00 273.88 L780.50 273.84 L781.00 273.80 L781.50 273.75 L782.00 273.72 L782.50 273.69 L783.00 273.67 L783.50 273.67 L784.00 273.66 L784.50 273.66 L785.00 273.65 L785.50 273.64 L786.00 273.61 L786.50 273.57 L787.00 273.53 L787.50 273.47 L788.00 273.42 L788.50 273.37 L789.00 273.33 L789.50 273.30 L790.00 273.28 L790.50 273.28 L791.00 273.28 L791.50 273.29 L792.00 273.31 L792.50 273.34 L793.00 273.37 L793.50 273.41 L794.00 273.45 L794.50 273.50 L795.00 273.55 L795.50 273.61 L796.00 273.67 L796.50 273.72 L797.00 273.77 L797.50 273.80 L798.00 273.81 L798.50 273.81 L799.00 273.78 L799.50 273.74 L800.00 273.69 L800.50 273.63 L801.00 273.56 L801.50 273.51 L802.00 273.47 L802.50 273.45 L803.00 273.44 L803.50 273.45 L804.00 273.46 L804.50 273.48 L805.00 273.50 L805.50 273.51 L806.00 273.52 L806.50 273.51 L807.00 273.50 L807.50 273.48 L808.00 273.46 L808.50 273.45 L809.00 273.44 L809.50 273.45 L810.00 273.46 L810.50 273.49 L811.00 273.52 L811.50 273.55 L812.00 273.59 L812.50 273.62 L813.00 273.64 L813.50 273.67 L814.00 273.68 L814.50 273.70 L815.00 273.71 L815.50 273.72 L816.00 273.72 L816.50 273.71 L817.00 273.70 L817.50 273.68 L818.00 273.64 L818.50 273.60 L819.00 273.54 L819.50 273.48 L820.00 273.41 L820.50 273.35 L821.00 273.30 L821.50 273.27 L822.00 273.26 L822.50 273.28 L823.00 273.32 L823.50 273.37 L824.00 273.43 L824.50 273.50 L825.00 273.56 L825.50 273.62 L826.00 273.67 L826.50 273.70 L827.00 273.71 L827.50 273.72 L828.00 273.73 L828.50 273.73 L829.00 273.74 L829.50 273.76 L830.00 273.78 L830.50 273.80 L831.00 273.83 L831.50 273.85 L832.00 273.87 L832.50 273.88 L833.00 273.87 L833.50 273.86 L834.00 273.84 L834.50 273.81 L835.00 273.77 L835.50 273.73 L836.00 273.69 L836.50 273.64 L837.00 273.60 L837.50 273.55 L838.00 273.50 L838.50 273.44 L839.00 273.38 L839.50 273.33 L840.00 273.28 L840.50 273.24 L841.00 273.22 L841.50 273.22 L842.00 273.24 L842.50 273.27 L843.00 273.33 L843.50 273.39 L844.00 273.46 L844.50 273.53 L845.00 273.58 L845.50 273.62 L846.00 273.64 L846.50 273.64 L847.00 273.63 L847.50 273.61 L848.00 273.58 L848.50 273.55 L849.00 273.53 L849.50 273.51 L850.00 273.51 L850.50 273.52 L851.00 273.53 L851.50 273.54 L852.00 273.56 L852.50 273.56 L853.00 273.57 L853.50 273.56 L854.00 273.55 L854.50 273.54 L855.00 273.53 L855.50 273.52 L856.00 273.52 L856.50 273.53 L857.00 273.53 L857.50 273.55 L858.00 273.56 L858.50 273.58 L859.00 273.59 L859.50 273.61 L860.00 273.63 L860.50 273.66 L861.00 273.69 L861.50 273.74 L862.00 273.79 L862.50 273.85 L863.00 273.91 L863.50 273.97 L864.00 274.02 L864.50 274.05"/>
<path d="M42.50 404.74 L43.00 404.71 L43.50 404.69 L44.00 404.69 L44.50 404.68 L45.00 404.68 L45.50 404.68 L46.00 404.66 L46.50 404.64 L47.00 404.61 L47.50 404.57 L48.00 404.55 L48.50 404.53 L49.00 404.55 L49.50 404.58 L50.00 404.65 L50.50 404.73 L51.00 404.83 L51.50 404.93 L52.00 405.01 L52.50 405.08 L53.00 405.10 L53.50 405.09 L54.00 405.03 L54.50 404.94 L55.00 404.82 L55.50 404.69 L56.00 404.55 L56.50 404.41 L57.00 404.28 L57.50 404.16 L58.00 404.07 L58.50 403.99 L59.00 403.92 L59.50 403.87 L60.00 403.84 L60.50 403.83 L61.00 403.83 L61.50 403.87 L62.00 403.93 L62.50 404.02 L63.00 404.13 L63.50 404.27 L64.00 404.41 L64.50 404.54 L65.00 404.66 L65.50 404.76 L66.00 404.82 L66.50 404.85 L67.00 404.84 L67.50 404.81 L68.00 404.76 L68.50 404.71 L69.00 404.67 L69.50 404.64 L70.00 404.62 L70.50 404.63 L71.00 404.65 L71.50 404.67 L72.00 404.70 L72.50 404.72 L73.00 404.72 L73.50 404.71 L74.00 404.70 L74.50 404.67 L75.00 404.65 L75.50 404.64 L76.00 404.64 L76.50 404.66 L77.00 404.69 L77.50 404.73 L78.00 404.78 L78.50 404.83 L79.00 404.87 L79.50 404.91 L80.00 404.94 L80.50 404.96 L81.00 404.99 L81.50 405.01 L82.00 405.03 L82.50 405.05 L83.00 405.08 L83.50 405.10 L84.00 405.10 L84.50 405.08 L85.00 405.03 L85.50 404.95 L86.00 404.83 L86.50 404.68 L87.00 404.52 L87.50 404.35 L88.00 404.19 L88.50 404.06 L89.00 403.96 L89.50 403.90 L90.00 403.89 L90.50 403.92 L91.00 403.98 L91.50 404.07 L92.00 404.17 L92.50 404.28 L93.00 404.38 L93.50 404.48 L94.00 404.56 L94.50 404.63 L95.00 404.70 L95.50 404.75 L96.00 404.80 L96.50 404.84 L97.00 404.86 L97.50 404.87 L98.00 404.85 L98.50 404.81 L99.00 404.75 L99.50 404.67 L100.00 404.58 L100.50 404.49 L101.00 404.41 L101.50 404.35 L102.00 404.32 L102.50 404.32 L103.00 404.34 L103.50 404.38 L104.00 404.44 L104.50 404.50 L105.00 404.55 L105.50 404.58 L106.00 404.60 L106.50 404.60 L107.00 404.60 L107.50 404.58 L108.00 404.58 L108.50 404.58 L109.00 404.60 L109.50 404.65 L110.00 404.70 L110.50 404.76 L111.00 404.83 L111.50 404.88 L112.00 404.92 L112.50 404.93 L113.00 404.92 L113.50 404.89 L114.00 404.84 L114.50 404.78 L115.00 404.72 L115.50 404.65 L116.00 404.58 L116.50 404.51 L117.00 404.44 L117.50 404.37 L118.00 404.30 L118.50 404.23 L119.00 404.15 L119.50 404.09 L120.00 404.05 L120.50 404.04 L121.00 404.05 L121.50 404.11 L122.00 404.21 L122.50 404.34 L123.00 404.50 L123.50 404.67 L124.00 404.83 L124.50 404.98 L125.00 405.10 L125.50 405.18 L126.00 405.22 L126.50 405.21 L127.00 405.18 L127.50 405.11 L128.00 405.04 L128.50 404.96 L129.00 404.88 L129.50 404.81 L130.00 404.75 L130.50 404.70 L131.00 404.65 L131.50 404.61 L132.00 404.57 L132.50 404.53 L133.00 404.50 L133.50 404.48 L134.00 404.47 L134.50 404.48 L135.00 404.52 L135.50 404.57 L136.00 404.62 L136.50 404.69 L137.00 404.74 L137.50 404.79 L138.00 404.81 L138.50 404.81 L139.00 404.79 L139.50 404.75 L140.00 404.71 L140.50 404.66 L141.00 404.62 L141.50 404.60 L142.00 404.59 L142.50 404.59 L143.00 404.60 L143.50 404.61 L144.00 404.61 L144.50 404.58 L145.00 404.53 L145.50 404.46 L146.00 404.37 L146.50 404.26 L147.00 404.15 L147.50 404.04 L148.00 403.96 L148.50 403.90 L149.00 403.87 L149.50 403.87 L150.00 403.90 L150.50 403.95 L151.00 404.02 L151.50 404.10 L152.00 404.19 L152.50 404.29 L153.00 404.39 L153.50 404.50 L154.00 404.62 L154.50 404.75 L155.00 404.87 L155.50 404.99 L156.00 405.09 L156.50 405.16 L157.00 405.20 L157.50 405.20 L158.00 405.17 L158.50 405.09 L159.00 404.98 L159.50 404.86 L160.00 404.74 L160.50 404.62 L161.00 404.53 L161.50 404.48 L162.00 404.46 L162.50 404.47 L163.00 404.51 L163.50 404.57 L164.00 404.64 L164.50 404.71 L165.00 404.77 L165.50 404.82 L166.00 404.86 L166.50 404.89 L167.00 404.91 L167.50 404.94 L168.00 404.96 L168.50 404.98 L169.00 404.99 L169.50 405.01 L170.00 405.00 L170.50 404.99 L171.00 404.95 L171.50 404.90 L172.00 404.83 L172.50 404.75 L173.00 404.67 L173.50 404.60 L174.00 404.53 L174.50 404.48 L175.00 404.44 L175.50 404.41 L176.00 404.39 L176.50 404.36 L177.00 404.33 L177.50 404.28 L178.00 404.22 L178.50 404.15 L179.00 404.08 L179.50 404.02 L180.00 403.98 L180.50 403.98 L181.00 404.00 L181.50 404.07 L182.00 404.17 L182.50 404.29 L183.00 404.43 L183.50 404.58 L184.00 404.71 L184.50 404.82 L185.00 404.90 L185.50 404.95 L186.00 404.98 L186.50 404.98 L187.00 404.96 L187.50 404.93 L188.00 404.88 L188.50 404.83 L189.00 404.76 L189.50 404.69 L190.00 404.61 L190.50 404.52 L191.00 404.43 L191.50 404.35 L192.00 404.27 L192.50 404.21 L193.00 404.19 L193.50 404.20 L194.00 404.24 L194.50 404.32 L195.00 404.43 L195.50 404.56 L196.00 404.68 L196.50 404.80 L197.00 404.90 L197.50 404.96 L198.00 404.99 L198.50 404.99 L199.00 404.96 L199.50 404.91 L200.00 404.86 L200.50 404.81 L201.00 404.76 L201.50 404.73 L202.00 404.70 L202.50 404.68 L203.00 404.66 L205.40 404.60 L205.61 404.44 L205.90 404.27 L206.24 404.04 L206.61 403.70 L206.97 403.20 L207.30 402.50 L207.60 401.74 L207.90 400.99 L208.19 400.09 L208.47 398.85 L208.74 397.11 L209.00 394.70 L209.24 391.58 L209.48 387.89 L209.70 383.69 L209.91 379.06 L210.11 374.07 L210.30 368.80 L210.48 363.28 L210.64 357.46 L210.79 351.28 L210.93 344.68 L211.07 337.61 L211.20 330.00 L211.34 321.03 L211.47 310.56 L211.61 299.62 L211.73 289.23 L211.83 280.38 L211.90 274.10"/>
<path d="M228.50 274.10 L228.55 276.87 L228.61 280.66 L228.69 285.18 L228.78 290.10 L228.88 295.15 L229.00 300.00 L229.13 304.96 L229.29 310.33 L229.45 315.81 L229.63 321.11 L229.81 325.94 L230.00 330.00 L230.20 333.19 L230.43 335.72 L230.66 337.78 L230.89 339.56 L231.10 341.23 L231.30 343.00 L231.47 344.85 L231.63 346.64 L231.77 348.32 L231.91 349.89 L232.05 351.29 L232.20 352.50 L232.35 353.53 L232.50 354.39 L232.66 355.10 L232.82 355.65 L233.00 356.05 L233.20 356.30 L233.43 356.34 L233.68 356.15 L233.94 355.81 L234.22 355.39 L234.51 354.96 L234.80 354.60 L235.10 354.24 L235.42 353.80 L235.75 353.35 L236.08 352.97 L236.40 352.73 L236.70 352.70 L236.99 352.89 L237.26 353.23 L237.53 353.72 L237.79 354.32 L238.05 355.02 L238.30 355.80 L238.54 356.62 L238.76 357.51 L238.98 358.49 L239.20 359.60 L239.44 360.89 L239.70 362.40 L239.99 364.21 L240.29 366.33 L240.61 368.61 L240.94 370.95 L241.27 373.22 L241.60 375.30 L241.92 377.16 L242.24 378.91 L242.56 380.58 L242.89 382.24 L243.24 383.93 L243.60 385.70 L243.99 387.65 L244.41 389.75 L244.84 391.88 L245.27 393.93 L245.69 395.78 L246.10 397.30 L246.48 398.46 L246.85 399.35 L247.21 400.04 L247.56 400.59 L247.93 401.09 L248.30 401.60 L248.68 402.10 L249.05 402.53 L249.43 402.91 L249.83 403.23 L250.25 403.53 L250.70 403.80 L251.19 404.04 L251.71 404.24 L252.25 404.41 L252.81 404.56 L253.40 404.68 L254.00 404.80 L254.67 404.91 L255.43 404.99 L256.21 405.06 L256.94 405.12 L257.56 405.16 L258.00 405.20 L258.50 405.94 L259.00 405.93 L259.50 405.92 L260.00 405.89 L260.50 405.86 L261.00 405.83 L261.50 405.78 L262.00 405.74 L262.50 405.68 L263.00 405.63 L263.50 405.57 L264.00 405.51 L264.50 405.46 L265.00 405.43 L265.50 405.41 L266.00 405.42 L266.50 405.44 L267.00 405.49 L267.50 405.55 L268.00 405.61 L268.50 405.65 L269.00 405.67 L269.50 405.66 L270.00 405.60 L270.50 405.47 L271.00 405.27 L271.50 404.98 L272.00 404.59 L272.50 404.06 L273.00 403.38 L273.50 402.50 L274.00 401.38 L274.50 399.97 L275.00 398.24 L275.50 396.15 L276.00 393.67 L276.50 390.79 L277.00 387.51 L277.50 383.87 L278.00 379.93 L278.50 375.76 L279.00 371.47 L279.50 367.19 L280.00 363.05 L280.50 359.19 L281.00 355.76 L281.50 352.89 L282.00 350.70 L282.50 349.27 L283.00 348.68 L283.50 348.89 L284.00 349.79 L284.50 351.34 L285.00 353.50 L285.50 356.20 L286.00 359.34 L286.50 362.83 L287.00 366.57 L287.50 370.43 L288.00 374.31 L288.50 378.12 L289.00 381.77 L289.50 385.19 L290.00 388.34 L290.50 391.19 L291.00 393.72 L291.50 395.94 L292.00 397.86 L292.50 399.50 L293.00 400.89 L293.50 402.06 L294.00 403.04 L294.50 403.84 L295.00 404.50 L295.50 405.03 L296.00 405.46 L296.50 405.80 L297.00 406.07 L297.50 406.29 L298.00 406.48 L298.50 406.63 L299.00 406.78 L299.50 406.91 L300.00 407.02 L300.50 407.12 L301.00 407.21 L301.50 407.28 L302.00 407.32 L302.50 407.35 L303.00 407.36 L303.50 407.35 L304.00 407.33 L304.50 407.31 L305.00 407.30 L305.50 407.29 L306.00 407.29 L306.50 407.30 L307.00 407.31 L307.50 407.32 L308.00 407.32 L308.50 407.30 L309.00 407.26 L309.50 407.20 L310.00 407.13 L310.50 407.06 L311.00 406.98 L311.50 406.91 L312.00 406.87 L312.50 406.84 L313.00 406.84 L313.50 406.87 L314.00 406.91 L314.50 406.97 L315.00 407.04 L315.50 407.11 L316.00 407.17 L316.50 407.23 L317.00 407.27 L317.50 407.32 L318.00 407.35 L318.50 407.38 L319.00 407.40 L319.50 407.41 L320.00 407.40 L320.50 407.39 L321.00 407.35 L321.50 407.30 L322.00 407.23 L322.50 407.14 L323.00 407.05 L323.50 406.96 L324.00 406.89 L324.50 406.83 L325.00 406.82 L325.50 406.83 L326.00 406.88 L326.50 406.96 L327.00 407.07 L327.50 407.19 L328.00 407.31 L328.50 407.42 L329.00 407.52 L329.50 407.61 L330.00 407.67 L330.50 407.73 L331.00 407.77 L331.50 407.80 L332.00 407.83 L332.50 407.86 L333.00 407.89 L333.50 407.91 L334.00 407.93 L334.50 407.94 L335.00 407.93 L335.50 407.91 L336.00 407.88 L336.50 407.85 L337.00 407.81 L337.50 407.77 L338.00 407.74 L338.50 407.71 L339.00 407.70 L339.50 407.69 L340.00 407.69 L340.50 407.67 L341.00 407.65 L341.50 407.61 L342.00 407.57 L342.50 407.53 L343.00 407.48 L343.50 407.44 L344.00 407.41 L344.50 407.40 L345.00 407.42 L345.50 407.45 L346.00 407.50 L346.50 407.55 L347.00 407.60 L347.50 407.62 L348.00 407.62 L348.50 407.57 L349.00 407.46 L349.50 407.29 L350.00 407.03 L350.50 406.69 L351.00 406.23 L351.50 405.65 L352.00 404.91 L352.50 403.99 L353.00 402.83 L353.50 401.42 L354.00 399.69 L354.50 397.61 L355.00 395.16 L355.50 392.30 L356.00 389.05 L356.50 385.42 L357.00 381.44 L357.50 377.19 L358.00 372.74 L358.50 368.21 L359.00 363.72 L359.50 359.41 L360.00 355.43 L360.50 351.91 L361.00 349.00 L361.50 346.81 L362.00 345.45 L362.50 344.96 L363.00 345.32 L363.50 346.46 L364.00 348.34 L364.50 350.91 L365.00 354.06 L365.50 357.69 L366.00 361.67 L366.50 365.89 L367.00 370.20 L367.50 374.48 L368.00 378.64 L368.50 382.59 L369.00 386.25 L369.50 389.59 L370.00 392.58 L370.50 395.22 L371.00 397.50 L371.50 399.46 L372.00 401.11 L372.50 402.48 L373.00 403.61 L373.50 404.52 L374.00 405.23 L374.50 405.79 L375.00 406.22 L375.50 406.54 L376.00 406.78 L376.50 406.96 L377.00 407.10 L377.50 407.20 L378.00 407.29 L378.50 407.36 L379.00 407.42 L379.50 407.46 L380.00 407.47 L380.50 407.45 L381.00 407.41 L381.50 407.34 L382.00 407.25 L382.50 407.14 L383.00 407.03 L383.50 406.93 L384.00 406.86 L384.50 406.80 L385.00 406.78 L385.50 406.81 L386.00 406.86 L386.50 406.94 L387.00 407.03 L387.50 407.12 L388.00 407.21 L388.50 407.29 L389.00 407.35 L389.50 407.38 L390.00 407.39 L390.50 407.37 L391.00 407.31 L391.50 407.20 L392.00 407.04 L392.50 406.79 L393.00 406.47 L393.50 406.04 L394.00 405.51 L394.50 404.87 L395.00 404.12 L395.50 403.26 L396.00 402.31 L396.50 401.29 L397.00 400.21 L397.50 399.09 L398.00 397.98 L398.50 396.89 L399.00 395.84 L399.50 394.88 L400.00 394.02 L400.50 393.29 L401.00 392.72 L401.50 392.33 L402.00 392.13 L402.50 392.15 L403.00 392.35 L403.50 392.74 L404.00 393.31 L404.50 394.04 L405.00 394.91 L405.50 395.89 L406.00 396.93 L406.50 398.02 L407.00 399.10 L407.50 400.17 L408.00 401.18 L408.50 402.12 L409.00 402.99 L409.50 403.77 L410.00 404.46 L410.50 405.06 L411.00 405.59 L411.50 406.04 L412.00 406.41 L412.50 406.72 L413.00 406.96 L413.50 407.15 L414.00 407.29 L414.50 407.40 L415.00 407.48 L415.50 407.56 L416.00 407.63 L416.50 407.72 L417.00 407.83 L417.50 407.95 L418.00 408.10 L418.50 408.26 L419.00 408.42 L419.50 408.57 L420.00 408.50 L420.50 408.55 L421.00 408.59 L421.50 408.60 L422.00 408.59 L422.50 408.57 L423.00 408.54 L423.50 408.50 L424.00 408.46 L424.50 408.41 L425.00 408.37 L425.50 408.33 L426.00 408.29 L426.50 408.25 L427.00 408.22 L427.50 408.18 L428.00 408.15 L428.50 408.13 L429.00 408.11 L429.50 408.10 L430.00 408.11 L430.50 408.12 L431.00 408.14 L431.50 408.17 L432.00 408.20 L432.50 408.23 L433.00 408.25 L433.50 408.25 L434.00 408.25 L434.50 408.24 L435.00 408.22 L435.50 408.20 L436.00 408.18 L436.50 408.17 L437.00 408.16 L437.50 408.17 L438.00 408.17 L438.50 408.19 L439.00 408.20 L439.50 408.20 L440.00 408.20 L440.50 408.19 L441.00 408.17 L441.50 408.14 L442.00 408.10 L442.50 408.07 L443.00 408.03 L443.50 408.01 L444.00 408.00 L444.50 408.00 L445.00 408.01 L445.50 408.03 L446.00 408.06 L446.50 408.10 L447.00 408.13 L447.50 408.17 L448.00 408.22 L448.50 408.26 L449.00 408.31 L449.50 408.37 L450.00 408.42 L450.50 408.48 L451.00 408.52 L451.50 408.57 L452.00 408.59 L452.50 408.60 L453.00 408.59 L453.50 408.56 L454.00 408.51 L454.50 408.45 L455.00 408.38 L455.50 408.31 L456.00 408.24 L456.50 408.19 L457.00 408.16 L457.50 408.14 L458.00 408.14 L458.50 408.15 L459.00 408.17 L459.50 408.19 L460.00 408.22 L460.50 408.25 L461.00 408.27 L461.50 408.29 L462.00 408.31 L462.50 408.32 L463.00 408.34 L463.50 408.36 L464.00 408.38 L464.50 408.40 L465.00 408.41 L465.50 408.42 L466.00 408.41 L466.50 408.40 L467.00 408.38 L467.50 408.36 L468.00 408.33 L468.50 408.30 L469.00 408.28 L469.50 408.27 L470.00 408.26 L470.50 408.26 L471.00 408.27 L471.50 408.28 L472.00 408.28 L472.50 408.28 L473.00 408.27 L473.50 408.25 L474.00 408.23 L474.50 408.21 L475.00 408.20 L475.50 408.19 L476.00 408.19 L476.50 408.21 L477.00 408.24 L477.50 408.29 L478.00 408.35 L478.50 408.40 L479.00 408.46 L479.50 408.51 L480.00 408.55 L480.50 408.57 L481.00 408.59 L481.50 408.59 L482.00 408.57 L482.50 408.56 L483.00 408.53 L483.50 408.50 L484.00 408.46 L484.50 408.42 L485.00 408.37 L485.50 408.32 L486.00 408.26 L486.50 408.20 L487.00 408.15 L487.50 408.10 L488.00 408.06 L488.50 408.04 L489.00 408.04 L489.50 408.06 L490.00 408.09 L490.50 408.14 L491.00 408.20 L491.50 408.26 L492.00 408.32 L492.50 408.37 L493.00 408.40 L493.50 408.42 L494.00 408.42 L494.50 408.41 L495.00 408.40 L495.50 408.39 L496.00 408.37 L496.50 408.36 L497.00 408.35 L497.50 408.35 L498.00 408.35 L498.50 408.34 L499.00 408.34 L499.50 408.33 L500.00 408.32 L500.50 408.31 L501.00 408.30 L501.50 408.30 L502.00 408.30 L502.50 408.31 L503.00 408.32 L503.50 408.34 L504.00 408.37 L504.50 408.40 L505.00 408.42 L505.50 408.44 L506.00 408.46 L506.50 408.47 L507.00 408.49 L507.50 408.50 L508.00 408.52 L508.50 408.54 L509.00 408.58 L509.50 408.62 L510.00 408.66 L510.50 408.70 L511.00 408.73 L511.50 408.76 L512.00 408.76 L512.50 408.75 L513.00 408.72 L513.50 408.67 L514.00 408.61 L514.50 408.53 L515.00 408.46 L515.50 408.39 L516.00 408.33 L516.50 408.28 L517.00 408.24 L517.50 408.21 L518.00 408.20 L518.50 408.19 L519.00 408.19 L519.50 408.20 L520.00 408.21 L520.50 408.23 L521.00 408.26 L521.50 408.29 L522.00 408.33 L522.50 408.38 L523.00 408.42 L523.50 408.46 L524.00 408.49 L524.50 408.51 L525.00 408.51 L525.50 408.50 L526.00 408.47 L526.50 408.43 L527.00 408.38 L527.50 408.33 L528.00 408.29 L528.50 408.26 L529.00 408.23 L529.50 408.23 L530.00 408.23 L530.50 408.25 L531.00 408.27 L531.50 408.29 L532.00 408.31 L532.50 408.33 L533.00 408.34 L533.50 408.36 L534.00 408.37 L534.50 408.38 L535.00 408.40 L535.50 408.42 L536.00 408.45 L536.50 408.48 L537.00 408.52 L537.50 408.56 L538.00 408.60 L538.50 408.63 L539.00 408.65 L539.50 408.67 L540.00 408.68 L540.50 408.68 L541.00 408.69 L541.50 408.69 L542.00 408.69 L542.50 408.69 L543.00 408.68 L543.50 408.67 L544.00 408.65 L544.50 408.62 L545.00 408.57 L545.50 408.52 L546.00 408.46 L546.50 408.40 L547.00 408.34 L547.50 408.29 L548.00 408.26 L548.50 408.25 L549.00 408.26 L549.50 408.29 L550.00 408.34 L550.50 408.39 L551.00 408.45 L551.50 408.51 L552.00 408.56 L552.50 408.60 L553.00 408.63 L553.50 408.65 L554.00 408.65 L554.50 408.65 L555.00 408.65 L555.50 408.64 L556.00 408.62 L556.50 408.60 L557.00 408.57 L557.50 408.54 L558.00 408.51 L558.50 408.46 L559.00 408.42 L559.50 408.38 L560.00 408.35 L560.50 408.33 L561.00 408.32 L561.50 408.33 L562.00 408.35 L562.50 408.39 L563.00 408.43 L563.50 408.48 L564.00 408.52 L564.50 408.56 L565.00 408.59 L565.50 408.60 L566.00 408.61 L566.50 408.61 L567.00 408.61 L567.50 408.60 L568.00 408.61 L568.50 408.61 L569.00 408.63 L569.50 408.64 L570.00 408.66 L570.50 408.67 L571.00 408.68 L571.50 408.68 L572.00 408.66 L572.50 408.64 L573.00 408.60 L573.50 408.56 L574.00 408.52 L574.50 408.48 L575.00 408.44 L575.50 408.40 L576.00 408.37 L576.50 408.35 L577.00 408.33 L577.50 408.31 L578.00 408.30 L578.50 408.29 L579.00 408.29 L579.50 408.29 L580.00 408.31 L580.50 408.34 L581.00 408.38 L581.50 408.44 L582.00 408.51 L582.50 408.57 L583.00 408.64 L583.50 408.70 L584.00 408.74 L584.50 408.77 L585.00 408.77 L585.50 408.75 L586.00 408.72 L586.50 408.68 L587.00 408.63 L587.50 408.58 L588.00 408.54 L588.50 408.51 L589.00 408.49 L589.50 408.48 L590.00 408.48 L590.50 408.49 L591.00 408.50 L591.50 408.52 L592.00 408.54 L592.50 408.56 L593.00 408.59 L593.50 408.62 L594.00 408.65 L594.50 408.70 L595.00 408.74 L595.50 408.78 L596.00 408.82 L596.50 408.86 L597.00 408.88 L597.50 408.88 L598.00 408.88 L598.50 408.86 L599.00 408.83 L599.50 408.80 L600.00 408.77 L600.50 408.74 L601.00 408.72 L601.50 408.70 L602.00 408.69 L602.50 408.68 L603.00 408.67 L603.50 408.65 L604.00 408.62 L604.50 408.59 L605.00 408.54 L605.50 408.49 L606.00 408.44 L606.50 408.39 L607.00 408.35 L607.50 408.32 L608.00 408.31 L608.50 408.31 L609.00 408.32 L609.50 408.35 L610.00 408.38 L610.50 408.42 L611.00 408.45 L611.50 408.49 L612.00 408.52 L612.50 408.55 L613.00 408.58 L613.50 408.61 L614.00 408.63 L614.50 408.65 L615.00 408.67 L615.50 408.68 L616.00 408.67 L616.50 408.66 L617.00 408.63 L617.50 408.59 L618.00 408.54 L618.50 408.48 L619.00 408.43 L619.50 408.39 L620.00 408.36 L620.50 408.35 L621.00 408.36 L621.50 408.39 L622.00 408.43 L622.50 408.49 L623.00 408.56 L623.50 408.62 L624.00 408.68 L624.50 408.73 L625.00 408.77 L625.50 408.80 L626.00 408.82 L626.50 408.83 L627.00 408.84 L627.50 408.84 L628.00 408.85 L628.50 408.85 L629.00 408.84 L629.50 408.83 L630.00 408.81 L630.50 408.78 L631.00 408.75 L631.50 408.71 L632.00 408.67 L632.50 408.64 L633.00 408.60 L633.50 408.58 L634.00 408.56 L634.50 408.55 L635.00 408.54 L635.50 408.54 L636.00 408.54 L636.50 408.53 L637.00 408.52 L637.50 408.50 L638.00 408.48 L638.50 408.47 L639.00 408.45 L639.50 408.45 L640.00 408.46 L640.50 408.48 L641.00 408.52 L641.50 408.57 L642.00 408.62 L642.50 408.67 L643.00 408.72 L643.50 408.75 L644.00 408.77 L644.50 408.77 L645.00 408.76 L645.50 408.74 L646.00 408.71 L646.50 408.67 L647.00 408.63 L647.50 408.59 L648.00 408.55 L648.50 408.52 L649.00 408.49 L649.50 408.46 L650.00 408.44 L650.50 408.42 L651.00 408.41 L651.50 408.41 L652.00 408.42 L652.50 408.44 L653.00 408.47 L653.50 408.52 L654.00 408.58 L654.50 408.65 L655.00 408.71 L655.50 408.77 L656.00 408.81 L656.50 408.84 L657.00 408.85 L657.50 408.83 L658.00 408.81 L658.50 408.77 L659.00 408.72 L659.50 408.67 L660.00 408.62 L660.50 408.58 L661.00 408.55 L661.50 408.53 L662.00 408.51 L662.50 408.50 L663.00 408.48 L663.50 408.47 L664.00 408.45 L664.50 408.43 L665.00 408.41 L665.50 408.40 L666.00 408.40 L666.50 408.40 L667.00 408.41 L667.50 408.42 L668.00 408.45 L668.50 408.47 L669.00 408.50 L669.50 408.52 L670.00 408.55 L670.50 408.56 L671.00 408.58 L671.50 408.60 L672.00 408.62 L672.50 408.64 L673.00 408.67 L673.50 408.70 L674.00 408.74 L674.50 408.77 L675.00 408.80 L675.50 408.81 L676.00 408.81 L676.50 408.79 L677.00 408.76 L677.50 408.72 L678.00 408.66 L678.50 408.61 L679.00 408.56 L679.50 408.52 L680.00 408.50 L680.50 408.49 L681.00 408.50 L681.50 408.53 L682.00 408.56 L682.50 408.60 L683.00 408.65 L683.50 408.69 L684.00 408.73 L684.50 408.77 L685.00 408.80 L685.50 408.83 L686.00 408.86 L686.50 408.87 L687.00 408.89 L687.50 408.89 L688.00 408.88 L688.50 408.86 L689.00 408.82 L689.50 408.77 L690.00 408.71 L690.50 408.63 L691.00 408.56 L691.50 408.49 L692.00 408.43 L692.50 408.38 L693.00 408.35 L693.50 408.33 L694.00 408.33 L694.50 408.34 L695.00 408.36 L695.50 408.38 L696.00 408.40 L696.50 408.41 L697.00 408.42 L697.50 408.42 L698.00 408.42 L698.50 408.42 L699.00 408.43 L699.50 408.44 L700.00 408.46 L700.50 408.49 L701.00 408.52 L701.50 408.55 L702.00 408.58 L702.50 408.61 L703.00 408.63 L703.50 408.64 L704.00 408.64 L704.50 408.64 L705.00 408.64 L705.50 408.63 L706.00 408.63 L706.50 408.62 L707.00 408.62 L707.50 408.61 L708.00 408.60 L708.50 408.59 L709.00 408.57 L709.50 408.55 L710.00 408.52 L710.50 408.50 L711.00 408.49 L711.50 408.49 L712.00 408.50 L712.50 408.53 L713.00 408.58 L713.50 408.64 L714.00 408.71 L714.50 408.78 L715.00 408.85 L715.50 408.90 L716.00 408.94 L716.50 408.95 L717.00 408.95 L717.50 408.93 L718.00 408.90 L718.50 408.86 L719.00 408.81 L719.50 408.76 L720.00 408.71 L720.50 408.66 L721.00 408.61 L721.50 408.57 L722.00 408.52 L722.50 408.48 L723.00 408.45 L723.50 408.41 L724.00 408.39 L724.50 408.38 L725.00 408.38 L725.50 408.40 L726.00 408.43 L726.50 408.46 L727.00 408.51 L727.50 408.55 L728.00 408.59 L728.50 408.62 L729.00 408.64 L729.50 408.65 L730.00 408.64 L730.50 408.63 L731.00 408.62 L731.50 408.61 L732.00 408.61 L732.50 408.61 L733.00 408.62 L733.50 408.63 L734.00 408.65 L734.50 408.66 L735.00 408.67 L735.50 408.67 L736.00 408.66 L736.50 408.63 L737.00 408.60 L737.50 408.57 L738.00 408.54 L738.50 408.51 L739.00 408.49 L739.50 408.47 L740.00 408.47 L740.50 408.47 L741.00 408.48 L741.50 408.50 L742.00 408.51 L742.50 408.53 L743.00 408.55 L743.50 408.58 L744.00 408.61 L744.50 408.64 L745.00 408.67 L745.50 408.71 L746.00 408.75 L746.50 408.79 L747.00 408.82 L747.50 408.83 L748.00 408.82 L748.50 408.80 L749.00 408.75 L749.50 408.69 L750.00 408.62 L750.50 408.54 L751.00 408.47 L751.50 408.40 L752.00 408.35 L752.50 408.32 L753.00 408.31 L753.50 408.31 L754.00 408.32 L754.50 408.35 L755.00 408.38 L755.50 408.42 L756.00 408.45 L756.50 408.49 L757.00 408.52 L757.50 408.56 L758.00 408.59 L758.50 408.63 L759.00 408.67 L759.50 408.70 L760.00 408.74 L760.50 408.76 L761.00 408.77 L761.50 408.78 L762.00 408.77 L762.50 408.76 L763.00 408.74 L763.50 408.71 L764.00 408.69 L764.50 408.68 L765.00 408.67 L765.50 408.67 L766.00 408.68 L766.50 408.68 L767.00 408.69 L767.50 408.70 L768.00 408.69 L768.50 408.68 L769.00 408.66 L769.50 408.64 L770.00 408.61 L770.50 408.59 L771.00 408.57 L771.50 408.57 L772.00 408.58 L772.50 408.60 L773.00 408.63 L773.50 408.67 L774.00 408.70 L774.50 408.74 L775.00 408.77 L775.50 408.79 L776.00 408.79 L776.50 408.79 L777.00 408.78 L777.50 408.76 L778.00 408.73 L778.50 408.70 L779.00 408.66 L779.50 408.62 L780.00 408.57 L780.50 408.52 L781.00 408.46 L781.50 408.40 L782.00 408.34 L782.50 408.28 L783.00 408.23 L783.50 408.20 L784.00 408.18 L784.50 408.19 L785.00 408.22 L785.50 408.27 L786.00 408.33 L786.50 408.40 L787.00 408.47 L787.50 408.54 L788.00 408.59 L788.50 408.63 L789.00 408.66 L789.50 408.68 L790.00 408.68 L790.50 408.68 L791.00 408.67 L791.50 408.67 L792.00 408.66 L792.50 408.66 L793.00 408.65 L793.50 408.65 L794.00 408.65 L794.50 408.64 L795.00 408.63 L795.50 408.62 L796.00 408.60 L796.50 408.59 L797.00 408.59 L797.50 408.59 L798.00 408.59 L798.50 408.61 L799.00 408.63 L799.50 408.65 L800.00 408.67 L800.50 408.69 L801.00 408.70 L801.50 408.70 L802.00 408.70 L802.50 408.70 L803.00 408.70 L803.50 408.70 L804.00 408.71 L804.50 408.73 L805.00 408.76 L805.50 408.79 L806.00 408.82 L806.50 408.84 L807.00 408.86 L807.50 408.85 L808.00 408.83 L808.50 408.80 L809.00 408.74 L809.50 408.68 L810.00 408.61 L810.50 408.54 L811.00 408.48 L811.50 408.43 L812.00 408.39 L812.50 408.36 L813.00 408.34 L813.50 408.33 L814.00 408.33 L814.50 408.34 L815.00 408.36 L815.50 408.38 L816.00 408.41 L816.50 408.45 L817.00 408.50 L817.50 408.55 L818.00 408.61 L818.50 408.67 L819.00 408.72 L819.50 408.76 L820.00 408.79 L820.50 408.79 L821.00 408.78 L821.50 408.76 L822.00 408.72 L822.50 408.67 L823.00 408.62 L823.50 408.57 L824.00 408.53 L824.50 408.51 L825.00 408.49 L825.50 408.49 L826.00 408.50 L826.50 408.51 L827.00 408.53 L827.50 408.54 L828.00 408.54 L828.50 408.55 L829.00 408.55 L829.50 408.55 L830.00 408.55 L830.50 408.56 L831.00 408.57 L831.50 408.59 L832.00 408.61 L832.50 408.64 L833.00 408.66 L833.50 408.67 L834.00 408.68 L834.50 408.69 L835.00 408.69 L835.50 408.68 L836.00 408.67 L836.50 408.67 L837.00 408.66 L837.50 408.66 L838.00 408.65 L838.50 408.65 L839.00 408.64 L839.50 408.62 L840.00 408.59 L840.50 408.55 L841.00 408.51 L841.50 408.45 L842.00 408.40 L842.50 408.36 L843.00 408.32 L843.50 408.31 L844.00 408.31 L844.50 408.34 L845.00 408.38 L845.50 408.44 L846.00 408.51 L846.50 408.58 L847.00 408.65 L847.50 408.71 L848.00 408.76 L848.50 408.80 L849.00 408.83 L849.50 408.85 L850.00 408.86 L850.50 408.87 L851.00 408.87 L851.50 408.86 L852.00 408.84 L852.50 408.81 L853.00 408.78 L853.50 408.74 L854.00 408.69 L854.50 408.64 L855.00 408.59 L855.50 408.56 L856.00 408.53 L856.50 408.51 L857.00 408.51 L857.50 408.53 L858.00 408.56 L858.50 408.59 L859.00 408.63 L859.50 408.66 L860.00 408.69 L860.50 408.70 L861.00 408.70 L861.50 408.69 L862.00 408.68 L862.50 408.66 L863.00 408.65 L863.50 408.64 L864.00 408.63 L864.50 408.63"/>
<path d="M42.50 542.16 L43.00 542.22 L43.50 542.28 L44.00 542.36 L44.50 542.43 L45.00 542.50 L45.50 542.56 L46.00 542.60 L46.50 542.64 L47.00 542.66 L47.50 542.68 L48.00 542.69 L48.50 542.71 L49.00 542.72 L49.50 542.73 L50.00 542.72 L50.50 542.70 L51.00 542.66 L51.50 542.58 L52.00 542.49 L52.50 542.38 L53.00 542.27 L53.50 542.16 L54.00 542.08 L54.50 542.02 L55.00 541.99 L55.50 542.00 L56.00 542.05 L56.50 542.11 L57.00 542.19 L57.50 542.27 L58.00 542.34 L58.50 542.40 L59.00 542.44 L59.50 542.47 L60.00 542.49 L60.50 542.50 L61.00 542.50 L61.50 542.50 L62.00 542.49 L62.50 542.47 L63.00 542.44 L63.50 542.38 L64.00 542.31 L64.50 542.22 L65.00 542.11 L65.50 542.00 L66.00 541.90 L66.50 541.82 L67.00 541.76 L67.50 541.73 L68.00 541.72 L68.50 541.74 L69.00 541.77 L69.50 541.80 L70.00 541.82 L70.50 541.83 L71.00 541.84 L71.50 541.83 L72.00 541.81 L72.50 541.80 L73.00 541.81 L73.50 541.83 L74.00 541.87 L74.50 541.94 L75.00 542.02 L75.50 542.12 L76.00 542.22 L76.50 542.31 L77.00 542.39 L77.50 542.46 L78.00 542.52 L78.50 542.57 L79.00 542.62 L79.50 542.67 L80.00 542.71 L80.50 542.74 L81.00 542.76 L81.50 542.77 L82.00 542.75 L82.50 542.70 L83.00 542.62 L83.50 542.51 L84.00 542.39 L84.50 542.26 L85.00 542.14 L85.50 542.04 L86.00 541.97 L86.50 541.94 L87.00 541.94 L87.50 541.97 L88.00 542.02 L88.50 542.08 L89.00 542.14 L89.50 542.20 L90.00 542.25 L90.50 542.28 L91.00 542.31 L91.50 542.33 L92.00 542.35 L92.50 542.37 L93.00 542.39 L93.50 542.40 L94.00 542.41 L94.50 542.39 L95.00 542.36 L95.50 542.31 L96.00 542.25 L96.50 542.17 L97.00 542.09 L97.50 542.01 L98.00 541.95 L98.50 541.91 L99.00 541.89 L99.50 541.89 L100.00 541.90 L100.50 541.92 L101.00 541.92 L101.50 541.92 L102.00 541.90 L102.50 541.87 L103.00 541.82 L103.50 541.78 L104.00 541.74 L104.50 541.71 L105.00 541.72 L105.50 541.74 L106.00 541.79 L106.50 541.86 L107.00 541.95 L107.50 542.03 L108.00 542.12 L108.50 542.20 L109.00 542.27 L109.50 542.33 L110.00 542.39 L110.50 542.44 L111.00 542.50 L111.50 542.54 L112.00 542.58 L112.50 542.61 L113.00 542.61 L113.50 542.58 L114.00 542.52 L114.50 542.42 L115.00 542.30 L115.50 542.17 L116.00 542.03 L116.50 541.90 L117.00 541.80 L117.50 541.72 L118.00 541.68 L118.50 541.67 L119.00 541.69 L119.50 541.73 L120.00 541.78 L120.50 541.83 L121.00 541.87 L121.50 541.91 L122.00 541.95 L122.50 541.98 L123.00 542.01 L123.50 542.05 L124.00 542.10 L124.50 542.14 L125.00 542.19 L125.50 542.23 L126.00 542.25 L126.50 542.27 L127.00 542.26 L127.50 542.24 L128.00 542.20 L128.50 542.17 L129.00 542.14 L129.50 542.13 L130.00 542.13 L130.50 542.14 L131.00 542.16 L131.50 542.19 L132.00 542.21 L132.50 542.21 L133.00 542.19 L133.50 542.15 L134.00 542.09 L134.50 542.02 L135.00 541.95 L135.50 541.88 L136.00 541.84 L136.50 541.81 L137.00 541.82 L137.50 541.85 L138.00 541.89 L138.50 541.95 L139.00 542.02 L139.50 542.08 L140.00 542.14 L140.50 542.20 L141.00 542.25 L141.50 542.31 L142.00 542.36 L142.50 542.41 L143.00 542.45 L143.50 542.49 L144.00 542.51 L144.50 542.50 L145.00 542.46 L145.50 542.38 L146.00 542.28 L146.50 542.14 L147.00 542.00 L147.50 541.85 L148.00 541.71 L148.50 541.60 L149.00 541.51 L149.50 541.46 L150.00 541.44 L150.50 541.44 L151.00 541.45 L151.50 541.47 L152.00 541.49 L152.50 541.50 L153.00 541.52 L153.50 541.53 L154.00 541.55 L154.50 541.57 L155.00 541.61 L155.50 541.66 L156.00 541.71 L156.50 541.77 L157.00 541.83 L157.50 541.88 L158.00 541.91 L158.50 541.94 L159.00 541.95 L159.50 541.95 L160.00 541.96 L160.50 541.97 L161.00 542.00 L161.50 542.04 L162.00 542.08 L162.50 542.13 L163.00 542.17 L163.50 542.20 L164.00 542.20 L164.50 542.17 L165.00 542.11 L165.50 542.03 L166.00 541.94 L166.50 541.85 L167.00 541.76 L167.50 541.69 L168.00 541.65 L168.50 541.64 L169.00 541.64 L169.50 541.67 L170.00 541.71 L170.50 541.75 L171.00 541.80 L171.50 541.84 L172.00 541.89 L172.50 541.94 L173.00 541.98 L173.50 542.04 L174.00 542.09 L174.50 542.14 L175.00 542.18 L175.50 542.20 L176.00 542.20 L176.50 542.16 L177.00 542.08 L177.50 541.98 L178.00 541.85 L178.50 541.71 L179.00 541.56 L179.50 541.43 L180.00 541.32 L180.50 541.24 L181.00 541.19 L181.50 541.15 L182.00 541.14 L182.50 541.13 L183.00 541.13 L183.50 541.12 L184.00 541.11 L184.50 541.09 L185.00 541.08 L185.50 541.07 L186.00 541.08 L186.50 541.10 L187.00 541.13 L187.50 541.18 L188.00 541.23 L188.50 541.33 L189.00 541.43 L189.50 541.51 L190.00 541.59 L190.50 541.66 L191.00 541.72 L191.50 541.80 L192.00 541.88 L192.50 541.97 L193.00 542.08 L193.50 542.19 L194.00 542.29 L194.50 542.38 L195.00 542.45 L195.50 542.48 L196.00 542.48 L196.50 542.45 L197.00 542.39 L197.50 542.33 L198.00 542.25 L198.50 542.19 L199.00 542.15 L199.50 542.13 L200.00 542.14 L200.50 542.18 L201.00 542.23 L201.50 542.30 L202.00 542.37 L202.50 542.45 L203.00 542.53 L205.00 542.70 L205.33 542.48 L205.79 542.22 L206.32 541.89 L206.89 541.45 L207.44 540.86 L207.90 540.10 L208.29 539.19 L208.66 538.17 L209.00 537.01 L209.32 535.66 L209.62 534.11 L209.90 532.30 L210.16 530.28 L210.40 528.09 L210.61 525.68 L210.81 523.02 L211.01 520.07 L211.20 516.80 L211.39 513.09 L211.56 508.94 L211.72 504.50 L211.89 499.92 L212.04 495.34 L212.20 490.90 L212.36 486.92 L212.51 483.36 L212.67 479.79 L212.82 475.81 L212.96 471.02 L213.10 465.00 L213.24 456.84 L213.37 446.70 L213.51 435.73 L213.63 425.13 L213.73 416.06 L213.80 409.70"/>
<path d="M226.80 409.70 L226.93 416.06 L227.11 425.13 L227.32 435.73 L227.55 446.70 L227.78 456.84 L228.00 465.00 L228.21 471.17 L228.43 476.29 L228.64 480.60 L228.86 484.32 L229.08 487.68 L229.30 490.90 L229.52 493.89 L229.74 496.45 L229.97 498.64 L230.19 500.55 L230.40 502.25 L230.60 503.80 L230.79 505.14 L230.96 506.20 L231.12 507.04 L231.29 507.74 L231.44 508.37 L231.60 509.00 L231.74 509.64 L231.87 510.23 L231.99 510.76 L232.12 511.18 L232.29 511.47 L232.50 511.60 L232.76 511.54 L233.06 511.29 L233.39 510.92 L233.75 510.46 L234.12 509.97 L234.50 509.50 L234.91 508.95 L235.36 508.28 L235.82 507.57 L236.28 506.93 L236.71 506.44 L237.10 506.20 L237.44 506.22 L237.74 506.43 L238.02 506.79 L238.28 507.27 L238.54 507.86 L238.80 508.50 L239.05 509.21 L239.27 510.02 L239.49 510.93 L239.73 511.92 L239.99 513.01 L240.30 514.20 L240.67 515.52 L241.09 516.99 L241.53 518.54 L241.99 520.15 L242.45 521.75 L242.90 523.30 L243.34 524.86 L243.79 526.47 L244.24 528.09 L244.68 529.64 L245.10 531.06 L245.50 532.30 L245.87 533.33 L246.21 534.20 L246.54 534.94 L246.86 535.60 L247.18 536.21 L247.50 536.80 L247.81 537.37 L248.11 537.89 L248.41 538.36 L248.72 538.78 L249.04 539.16 L249.40 539.50 L249.82 539.80 L250.31 540.06 L250.82 540.27 L251.30 540.44 L251.71 540.59 L252.00 540.70 L252.50 541.04 L253.00 540.83 L253.50 540.53 L254.00 540.12 L254.50 539.57 L255.00 538.85 L255.50 537.91 L256.00 536.71 L256.50 535.21 L257.00 533.37 L257.50 531.17 L258.00 528.61 L258.50 525.71 L259.00 522.52 L259.50 519.13 L260.00 515.65 L260.50 512.21 L261.00 508.96 L261.50 506.07 L262.00 503.68 L262.50 501.91 L263.00 500.85 L263.50 500.55 L264.00 500.86 L264.50 501.68 L265.00 502.98 L265.50 504.69 L266.00 506.78 L266.50 509.16 L267.00 511.75 L267.50 514.48 L268.00 517.27 L268.50 520.05 L269.00 522.74 L269.50 525.28 L270.00 527.64 L270.50 529.78 L271.00 531.69 L271.50 533.35 L272.00 534.77 L272.50 535.98 L273.00 536.98 L273.50 537.80 L274.00 538.46 L274.50 538.98 L275.00 539.37 L275.50 539.64 L276.00 539.80 L276.50 539.83 L277.00 539.75 L277.50 539.56 L278.00 539.26 L278.50 538.87 L279.00 538.39 L279.50 537.85 L280.00 537.27 L280.50 536.68 L281.00 536.09 L281.50 535.54 L282.00 535.04 L282.50 534.62 L283.00 534.31 L283.50 534.11 L284.00 534.05 L284.50 534.12 L285.00 534.29 L285.50 534.58 L286.00 534.96 L286.50 535.42 L287.00 535.97 L287.50 536.56 L288.00 537.19 L288.50 537.82 L289.00 538.44 L289.50 539.02 L290.00 539.55 L290.50 540.02 L291.00 540.42 L291.50 540.77 L292.00 541.06 L292.50 541.30 L293.00 541.51 L293.50 541.68 L294.00 541.83 L294.50 541.95 L295.00 542.05 L295.50 542.13 L296.00 542.19 L296.50 542.23 L297.00 542.26 L297.50 542.28 L298.00 542.31 L298.50 542.34 L299.00 542.38 L299.50 542.42 L300.00 542.48 L300.50 542.54 L301.00 542.59 L301.50 542.63 L302.00 542.67 L302.50 542.68 L303.00 542.69 L303.50 542.69 L304.00 542.68 L304.50 542.68 L305.00 542.69 L305.50 542.72 L306.00 542.75 L306.50 542.80 L307.00 542.84 L307.50 542.89 L308.00 542.92 L308.50 542.93 L309.00 542.92 L309.50 542.89 L310.00 542.85 L310.50 542.79 L311.00 542.73 L311.50 542.67 L312.00 542.62 L312.50 542.58 L313.00 542.54 L313.50 542.52 L314.00 542.49 L314.50 542.47 L315.00 542.45 L315.50 542.44 L316.00 542.44 L316.50 542.45 L317.00 542.47 L317.50 542.52 L318.00 542.58 L318.50 542.66 L319.00 542.74 L319.50 542.82 L320.00 542.90 L320.50 542.95 L321.00 542.98 L321.50 542.98 L322.00 542.95 L322.50 542.91 L323.00 542.85 L323.50 542.78 L324.00 542.72 L324.50 542.67 L325.00 542.62 L325.50 542.59 L326.00 542.56 L326.50 542.54 L327.00 542.52 L327.50 542.50 L328.00 542.48 L328.50 542.46 L329.00 542.45 L329.50 542.45 L330.00 542.46 L330.50 542.48 L331.00 542.52 L331.50 542.56 L332.00 542.61 L332.50 542.65 L333.00 542.69 L333.50 542.72 L334.00 542.74 L334.50 542.75 L335.00 542.76 L335.50 542.77 L336.00 542.78 L336.50 542.81 L337.00 542.86 L337.50 542.92 L338.00 542.98 L338.50 543.04 L339.00 543.09 L339.50 543.12 L340.00 543.13 L340.50 543.12 L341.00 543.08 L341.50 543.03 L342.00 542.96 L342.50 542.88 L343.00 542.80 L343.50 542.73 L344.00 542.66 L344.50 542.60 L345.00 542.54 L345.50 542.49 L346.00 542.43 L346.50 542.39 L347.00 542.34 L347.50 542.31 L348.00 542.30 L348.50 542.31 L349.00 542.33 L349.50 542.38 L350.00 542.45 L350.50 542.53 L351.00 542.60 L351.50 542.67 L352.00 542.72 L352.50 542.75 L353.00 542.75 L353.50 542.73 L354.00 542.70 L354.50 542.66 L355.00 542.62 L355.50 542.58 L356.00 542.55 L356.50 542.53 L357.00 542.52 L357.50 542.51 L358.00 542.51 L358.50 542.50 L359.00 542.49 L359.50 542.47 L360.00 542.45 L360.50 542.44 L361.00 542.44 L361.50 542.44 L362.00 542.46 L362.50 542.49 L363.00 542.52 L363.50 542.56 L364.00 542.59 L364.50 542.62 L365.00 542.64 L365.50 542.65 L366.00 542.66 L366.50 542.67 L367.00 542.69 L367.50 542.72 L368.00 542.77 L368.50 542.83 L369.00 542.91 L369.50 542.99 L370.00 543.07 L370.50 543.14 L371.00 543.18 L371.50 543.20 L372.00 543.20 L372.50 543.17 L373.00 543.12 L373.50 543.05 L374.00 542.98 L374.50 542.90 L375.00 542.83 L375.50 542.76 L376.00 542.69 L376.50 542.62 L377.00 542.55 L377.50 542.48 L378.00 542.42 L378.50 542.36 L379.00 542.32 L379.50 542.29 L380.00 542.29 L380.50 542.31 L381.00 542.36 L381.50 542.42 L382.00 542.49 L382.50 542.55 L383.00 542.62 L383.50 542.66 L384.00 542.69 L384.50 542.69 L385.00 542.68 L385.50 542.66 L386.00 542.64 L386.50 542.61 L387.00 542.60 L387.50 542.59 L388.00 542.59 L388.50 542.60 L389.00 542.61 L389.50 542.61 L390.00 542.61 L390.50 542.59 L391.00 542.57 L391.50 542.55 L392.00 542.53 L392.50 542.51 L393.00 542.50 L393.50 542.49 L394.00 542.50 L394.50 542.50 L395.00 542.51 L395.50 542.51 L396.00 542.51 L396.50 542.50 L397.00 542.49 L397.50 542.47 L398.00 542.47 L398.50 542.48 L399.00 542.51 L399.50 542.56 L400.00 542.63 L400.50 542.71 L401.00 542.80 L401.50 542.89 L402.00 542.96 L402.50 543.01 L403.00 543.04 L403.50 543.04 L404.00 543.02 L404.50 542.98 L405.00 542.93 L405.50 542.87 L406.00 542.81 L406.50 542.75 L407.00 542.69 L407.50 542.63 L408.00 542.57 L408.50 542.50 L409.00 542.44 L409.50 542.38 L410.00 542.33 L410.50 542.29 L411.00 542.26 L411.50 542.27 L412.00 542.29 L412.50 542.34 L413.00 542.40 L413.50 542.48 L414.00 542.55 L414.50 542.61 L415.00 542.66 L415.50 542.69 L416.00 542.70 L416.50 542.71 L417.00 542.70 L417.50 542.70 L418.00 542.71 L418.50 542.72 L419.00 542.74 L419.50 542.77 L420.00 542.80 L420.50 542.83 L421.00 542.84 L421.50 542.85 L422.00 542.85 L422.50 542.83 L423.00 542.80 L423.50 542.77 L424.00 542.74 L424.50 542.71 L425.00 542.69 L425.50 542.66 L426.00 542.64 L426.50 542.61 L427.00 542.58 L427.50 542.53 L428.00 542.48 L428.50 542.43 L429.00 542.39 L429.50 542.36 L430.00 542.35 L430.50 542.36 L431.00 542.39 L431.50 542.45 L432.00 542.53 L432.50 542.61 L433.00 542.68 L433.50 542.75 L434.00 542.80 L434.50 542.82 L435.00 542.82 L435.50 542.80 L436.00 542.77 L436.50 542.72 L437.00 542.67 L437.50 542.61 L438.00 542.55 L438.50 542.48 L439.00 542.39 L439.50 542.27 L440.00 542.13 L440.50 541.94 L441.00 541.71 L441.50 541.40 L442.00 541.01 L442.50 540.52 L443.00 539.88 L443.50 539.05 L444.00 537.98 L444.50 536.61 L445.00 534.86 L445.50 532.67 L446.00 529.95 L446.50 526.65 L447.00 522.71 L447.50 518.10 L448.00 512.81 L448.50 506.86 L449.00 500.30 L449.50 493.21 L450.00 485.71 L450.50 477.95 L451.00 470.12 L451.50 462.42 L452.00 455.08 L452.50 448.34 L453.00 442.43 L453.50 437.57 L454.00 433.94 L454.50 431.68 L455.00 430.90 L455.50 431.53 L456.00 433.46 L456.50 436.61 L457.00 440.87 L457.50 446.10 L458.00 452.13 L458.50 458.76 L459.00 465.80 L459.50 473.05 L460.00 480.34 L460.50 487.51 L461.00 494.42 L461.50 500.96 L462.00 507.04 L462.50 512.61 L463.00 517.62 L463.50 522.05 L464.00 525.92 L464.50 529.23 L465.00 532.02 L465.50 534.32 L466.00 536.20 L466.50 537.70 L467.00 538.88 L467.50 539.79 L468.00 540.49 L468.50 541.01 L469.00 541.40 L469.50 541.67 L470.00 541.86 L470.50 541.99 L471.00 542.06 L471.50 542.09 L472.00 542.09 L472.50 542.07 L473.00 542.05 L473.50 542.03 L474.00 542.02 L474.50 542.02 L475.00 542.05 L475.50 542.08 L476.00 542.13 L476.50 542.17 L477.00 542.22 L477.50 542.25 L478.00 542.27 L478.50 542.28 L479.00 542.28 L479.50 542.28 L480.00 542.29 L480.50 542.31 L481.00 542.35 L481.50 542.40 L482.00 542.47 L482.50 542.54 L483.00 542.61 L483.50 542.68 L484.00 542.73 L484.50 542.77 L485.00 542.79 L485.50 542.80 L486.00 542.79 L486.50 542.78 L487.00 542.76 L487.50 542.74 L488.00 542.71 L488.50 542.67 L489.00 542.62 L489.50 542.56 L490.00 542.49 L490.50 542.41 L491.00 542.33 L491.50 542.24 L492.00 542.17 L492.50 542.12 L493.00 542.09 L493.50 542.09 L494.00 542.12 L494.50 542.17 L495.00 542.24 L495.50 542.32 L496.00 542.39 L496.50 542.45 L497.00 542.50 L497.50 542.53 L498.00 542.55 L498.50 542.56 L499.00 542.56 L499.50 542.56 L500.00 542.55 L500.50 542.55 L501.00 542.54 L501.50 542.53 L502.00 542.52 L502.50 542.49 L503.00 542.46 L503.50 542.41 L504.00 542.37 L504.50 542.33 L505.00 542.30 L505.50 542.28 L506.00 542.27 L506.50 542.28 L507.00 542.30 L507.50 542.32 L508.00 542.34 L508.50 542.35 L509.00 542.35 L509.50 542.34 L510.00 542.32 L510.50 542.29 L511.00 542.27 L511.50 542.26 L512.00 542.26 L512.50 542.29 L513.00 542.33 L513.50 542.39 L514.00 542.45 L514.50 542.52 L515.00 542.58 L515.50 542.63 L516.00 542.67 L516.50 542.69 L517.00 542.69 L517.50 542.69 L518.00 542.68 L518.50 542.67 L519.00 542.64 L519.50 542.61 L520.00 542.57 L520.50 542.52 L521.00 542.45 L521.50 542.37 L522.00 542.28 L522.50 542.19 L523.00 542.10 L523.50 542.02 L524.00 541.97 L524.50 541.94 L525.00 541.95 L525.50 541.98 L526.00 542.03 L526.50 542.10 L527.00 542.18 L527.50 542.25 L528.00 542.32 L528.50 542.37 L529.00 542.41 L529.50 542.45 L530.00 542.47 L530.50 542.50 L531.00 542.52 L531.50 542.55 L532.00 542.58 L532.50 542.61 L533.00 542.64 L533.50 542.65 L534.00 542.65 L534.50 542.65 L535.00 542.63 L535.50 542.61 L536.00 542.59 L536.50 542.58 L537.00 542.57 L537.50 542.57 L538.00 542.58 L538.50 542.59 L539.00 542.60 L539.50 542.60 L540.00 542.58 L540.50 542.55 L541.00 542.51 L541.50 542.46 L542.00 542.41 L542.50 542.36 L543.00 542.33 L543.50 542.32 L544.00 542.33 L544.50 542.36 L545.00 542.40 L545.50 542.46 L546.00 542.52 L546.50 542.57 L547.00 542.62 L547.50 542.65 L548.00 542.67 L548.50 542.68 L549.00 542.68 L549.50 542.67 L550.00 542.66 L550.50 542.64 L551.00 542.61 L551.50 542.57 L552.00 542.52 L552.50 542.44 L553.00 542.36 L553.50 542.26 L554.00 542.16 L554.50 542.06 L555.00 541.98 L555.50 541.93 L556.00 541.89 L556.50 541.89 L557.00 541.91 L557.50 541.96 L558.00 542.01 L558.50 542.08 L559.00 542.14 L559.50 542.19 L560.00 542.23 L560.50 542.27 L561.00 542.30 L561.50 542.33 L562.00 542.36 L562.50 542.40 L563.00 542.44 L563.50 542.49 L564.00 542.54 L564.50 542.59 L565.00 542.62 L565.50 542.65 L566.00 542.66 L566.50 542.67 L567.00 542.67 L567.50 542.67 L568.00 542.67 L568.50 542.68 L569.00 542.69 L569.50 542.71 L570.00 542.72 L570.50 542.72 L571.00 542.70 L571.50 542.67 L572.00 542.62 L572.50 542.55 L573.00 542.48 L573.50 542.41 L574.00 542.35 L574.50 542.31 L575.00 542.29 L575.50 542.30 L576.00 542.32 L576.50 542.37 L577.00 542.42 L577.50 542.48 L578.00 542.54 L578.50 542.59 L579.00 542.63 L579.50 542.66 L580.00 542.68 L580.50 542.70 L581.00 542.71 L581.50 542.72 L582.00 542.72 L582.50 542.71 L583.00 542.68 L583.50 542.64 L584.00 542.58 L584.50 542.50 L585.00 542.42 L585.50 542.32 L586.00 542.24 L586.50 542.16 L587.00 542.11 L587.50 542.08 L588.00 542.07 L588.50 542.09 L589.00 542.12 L589.50 542.16 L590.00 542.20 L590.50 542.23 L591.00 542.26 L591.50 542.28 L592.00 542.29 L592.50 542.30 L593.00 542.32 L593.50 542.34 L594.00 542.37 L594.50 542.41 L595.00 542.46 L595.50 542.51 L596.00 542.55 L596.50 542.59 L597.00 542.62 L597.50 542.64 L598.00 542.65 L598.50 542.66 L599.00 542.67 L599.50 542.67 L600.00 542.69 L600.50 542.70 L601.00 542.71 L601.50 542.71 L602.00 542.69 L602.50 542.66 L603.00 542.61 L603.50 542.53 L604.00 542.45 L604.50 542.35 L605.00 542.27 L605.50 542.19 L606.00 542.14 L606.50 542.11 L607.00 542.11 L607.50 542.13 L608.00 542.18 L608.50 542.23 L609.00 542.29 L609.50 542.35 L610.00 542.40 L610.50 542.45 L611.00 542.50 L611.50 542.54 L612.00 542.58 L612.50 542.62 L613.00 542.66 L613.50 542.69 L614.00 542.71 L614.50 542.72 L615.00 542.70 L615.50 542.67 L616.00 542.63 L616.50 542.57 L617.00 542.50 L617.50 542.44 L618.00 542.39 L618.50 542.36 L619.00 542.34 L619.50 542.35 L620.00 542.37 L620.50 542.40 L621.00 542.43 L621.50 542.45 L622.00 542.47 L622.50 542.47 L623.00 542.47 L623.50 542.46 L624.00 542.45 L624.50 542.45 L625.00 542.45 L625.50 542.47 L626.00 542.50 L626.50 542.54 L627.00 542.58 L627.50 542.62 L628.00 542.65 L628.50 542.68 L629.00 542.70 L629.50 542.71 L630.00 542.72 L630.50 542.73 L631.00 542.74 L631.50 542.76 L632.00 542.77 L632.50 542.77 L633.00 542.76 L633.50 542.73 L634.00 542.67 L634.50 542.60 L635.00 542.50 L635.50 542.40 L636.00 542.28 L636.50 542.18 L637.00 542.09 L637.50 542.02 L638.00 541.98 L638.50 541.96 L639.00 541.97 L639.50 542.00 L640.00 542.04 L640.50 542.09 L641.00 542.14 L641.50 542.19 L642.00 542.23 L642.50 542.28 L643.00 542.33 L643.50 542.39 L644.00 542.44 L644.50 542.50 L645.00 542.55 L645.50 542.60 L646.00 542.63 L646.50 542.64 L647.00 542.63 L647.50 542.61 L648.00 542.58 L648.50 542.54 L649.00 542.51 L649.50 542.49 L650.00 542.48 L650.50 542.49 L651.00 542.51 L651.50 542.54 L652.00 542.57 L652.50 542.59 L653.00 542.61 L653.50 542.61 L654.00 542.59 L654.50 542.57 L655.00 542.54 L655.50 542.52 L656.00 542.50 L656.50 542.50 L657.00 542.51 L657.50 542.53 L658.00 542.56 L658.50 542.60 L659.00 542.63 L659.50 542.67 L660.00 542.70 L660.50 542.72 L661.00 542.74 L661.50 542.77 L662.00 542.79 L662.50 542.82 L663.00 542.85 L663.50 542.87 L664.00 542.88 L664.50 542.87 L665.00 542.85 L665.50 542.79 L666.00 542.71 L666.50 542.61 L667.00 542.50 L667.50 542.38 L668.00 542.27 L668.50 542.17 L669.00 542.10 L669.50 542.05 L670.00 542.03 L670.50 542.03 L671.00 542.04 L671.50 542.07 L672.00 542.10 L672.50 542.13 L673.00 542.16 L673.50 542.20 L674.00 542.24 L674.50 542.28 L675.00 542.33 L675.50 542.39 L676.00 542.45 L676.50 542.50 L677.00 542.55 L677.50 542.59 L678.00 542.61 L678.50 542.61 L679.00 542.60 L679.50 542.58 L680.00 542.56 L680.50 542.55 L681.00 542.54 L681.50 542.55 L682.00 542.56 L682.50 542.59 L683.00 542.61 L683.50 542.63 L684.00 542.64 L684.50 542.64 L685.00 542.61 L685.50 542.57 L686.00 542.52 L686.50 542.47 L687.00 542.42 L687.50 542.39 L688.00 542.36 L688.50 542.36 L689.00 542.37 L689.50 542.39 L690.00 542.42 L690.50 542.45 L691.00 542.48 L691.50 542.52 L692.00 542.55 L692.50 542.59 L693.00 542.63 L693.50 542.68 L694.00 542.73 L694.50 542.78 L695.00 542.83 L695.50 542.86 L696.00 542.88 L696.50 542.87 L697.00 542.83 L697.50 542.77 L698.00 542.69 L698.50 542.59 L699.00 542.49 L699.50 542.40 L700.00 542.33 L700.50 542.27 L701.00 542.23 L701.50 542.22 L702.00 542.22 L702.50 542.24 L703.00 542.26 L703.50 542.28 L704.00 542.30 L704.50 542.32 L705.00 542.35 L705.50 542.38 L706.00 542.41 L706.50 542.46 L707.00 542.51 L707.50 542.56 L708.00 542.62 L708.50 542.66 L709.00 542.69 L709.50 542.71 L710.00 542.72 L710.50 542.71 L711.00 542.70 L711.50 542.69 L712.00 542.69 L712.50 542.69 L713.00 542.70 L713.50 542.72 L714.00 542.74 L714.50 542.76 L715.00 542.76 L715.50 542.75 L716.00 542.71 L716.50 542.66 L717.00 542.59 L717.50 542.51 L718.00 542.42 L718.50 542.35 L719.00 542.28 L719.50 542.23 L720.00 542.20 L720.50 542.19 L721.00 542.19 L721.50 542.19 L722.00 542.21 L722.50 542.23 L723.00 542.25 L723.50 542.28 L724.00 542.32 L724.50 542.37 L725.00 542.43 L725.50 542.50 L726.00 542.57 L726.50 542.64 L727.00 542.69 L727.50 542.73 L728.00 542.74 L728.50 542.73 L729.00 542.69 L729.50 542.63 L730.00 542.56 L730.50 542.49 L731.00 542.43 L731.50 542.38 L732.00 542.35 L732.50 542.33 L733.00 542.34 L733.50 542.35 L734.00 542.37 L734.50 542.39 L735.00 542.41 L735.50 542.42 L736.00 542.44 L736.50 542.46 L737.00 542.48 L737.50 542.51 L738.00 542.55 L738.50 542.60 L739.00 542.65 L739.50 542.70 L740.00 542.74 L740.50 542.77 L741.00 542.80 L741.50 542.81 L742.00 542.81 L742.50 542.81 L743.00 542.82 L743.50 542.83 L744.00 542.85 L744.50 542.87 L745.00 542.91 L745.50 542.94 L746.00 542.95 L746.50 542.95 L747.00 542.93 L747.50 542.88 L748.00 542.81 L748.50 542.72 L749.00 542.62 L749.50 542.52 L750.00 542.42 L750.50 542.33 L751.00 542.27 L751.50 542.21 L752.00 542.18 L752.50 542.15 L753.00 542.14 L753.50 542.13 L754.00 542.14 L754.50 542.15 L755.00 542.17 L755.50 542.20 L756.00 542.25 L756.50 542.31 L757.00 542.38 L757.50 542.46 L758.00 542.53 L758.50 542.60 L759.00 542.64 L759.50 542.66 L760.00 542.66 L760.50 542.63 L761.00 542.59 L761.50 542.54 L762.00 542.49 L762.50 542.44 L763.00 542.41 L763.50 542.40 L764.00 542.40 L764.50 542.41 L765.00 542.42 L765.50 542.44 L766.00 542.45 L766.50 542.45 L767.00 542.45 L767.50 542.45 L768.00 542.45 L768.50 542.46 L769.00 542.47 L769.50 542.49 L770.00 542.53 L770.50 542.56 L771.00 542.60 L771.50 542.63 L772.00 542.66 L772.50 542.67 L773.00 542.69 L773.50 542.70 L774.00 542.71 L774.50 542.73 L775.00 542.76 L775.50 542.80 L776.00 542.85 L776.50 542.90 L777.00 542.95 L777.50 542.97 L778.00 542.98 L778.50 542.96 L779.00 542.91 L779.50 542.83 L780.00 542.73 L780.50 542.61 L781.00 542.49 L781.50 542.36 L782.00 542.24 L782.50 542.12 L783.00 542.01 L783.50 541.91 L784.00 541.79 L784.50 541.67 L785.00 541.54 L785.50 541.40 L786.00 541.24 L786.50 541.06 L787.00 540.87 L787.50 540.66 L788.00 540.42 L788.50 540.15 L789.00 539.84 L789.50 539.48 L790.00 539.04 L790.50 538.53 L791.00 537.93 L791.50 537.25 L792.00 536.47 L792.50 535.61 L793.00 534.68 L793.50 533.68 L794.00 532.61 L794.50 531.50 L795.00 530.33 L795.50 529.11 L796.00 527.85 L796.50 526.54 L797.00 525.19 L797.50 523.81 L798.00 522.41 L798.50 521.01 L799.00 519.62 L799.50 518.25 L800.00 516.94 L800.50 515.70 L801.00 514.55 L801.50 513.49 L802.00 512.54 L802.50 511.72 L803.00 511.01 L803.50 510.45 L804.00 510.03 L804.50 509.76 L805.00 509.65 L805.50 509.71 L806.00 509.92 L806.50 510.29 L807.00 510.80 L807.50 511.46 L808.00 512.23 L808.50 513.12 L809.00 514.09 L809.50 515.13 L810.00 516.22 L810.50 517.36 L811.00 518.52 L811.50 519.71 L812.00 520.92 L812.50 522.14 L813.00 523.37 L813.50 524.61 L814.00 525.84 L814.50 527.06 L815.00 528.25 L815.50 529.41 L816.00 530.53 L816.50 531.60 L817.00 532.62 L817.50 533.59 L818.00 534.51 L818.50 535.39 L819.00 536.21 L819.50 537.00 L820.00 537.73 L820.50 538.41 L821.00 539.02 L821.50 539.58 L822.00 540.06 L822.50 540.48 L823.00 540.83 L823.50 541.12 L824.00 541.37 L824.50 541.58 L825.00 541.77 L825.50 541.93 L826.00 542.08 L826.50 542.22 L827.00 542.35 L827.50 542.45 L828.00 542.54 L828.50 542.60 L829.00 542.63 L829.50 542.64 L830.00 542.62 L830.50 542.60 L831.00 542.57 L831.50 542.53 L832.00 542.50 L832.50 542.47 L833.00 542.44 L833.50 542.42 L834.00 542.40 L834.50 542.37 L835.00 542.35 L835.50 542.32 L836.00 542.30 L836.50 542.29 L837.00 542.30 L837.50 542.33 L838.00 542.37 L838.50 542.43 L839.00 542.51 L839.50 542.58 L840.00 542.65 L840.50 542.71 L841.00 542.74 L841.50 542.75 L842.00 542.73 L842.50 542.69 L843.00 542.63 L843.50 542.56 L844.00 542.50 L844.50 542.44 L845.00 542.39 L845.50 542.35 L846.00 542.31 L846.50 542.29 L847.00 542.27 L847.50 542.25 L848.00 542.24 L848.50 542.23 L849.00 542.24 L849.50 542.26 L850.00 542.29 L850.50 542.35 L851.00 542.41 L851.50 542.49 L852.00 542.57 L852.50 542.65 L853.00 542.72 L853.50 542.77 L854.00 542.80 L854.50 542.82 L855.00 542.83 L855.50 542.83 L856.00 542.83 L856.50 542.84 L857.00 542.87 L857.50 542.90 L858.00 542.94 L858.50 542.97 L859.00 543.01 L859.50 543.03 L860.00 543.03 L860.50 543.01 L861.00 542.98 L861.50 542.93 L862.00 542.87 L862.50 542.80 L863.00 542.74 L863.50 542.68 L864.00 542.62 L864.50 542.57"/>
</g>
<g stroke="#2a2ad4" stroke-width="2.0" stroke-dasharray="6.4 6.16">
<line x1="262.6" y1="98.0" x2="262.6" y2="541.4"/>
<line x1="283.1" y1="52.1" x2="283.1" y2="545.3"/>
<line x1="361.4" y1="108.6" x2="361.4" y2="403.8"/>
<line x1="454.3" y1="82.9" x2="454.3" y2="541.0"/>
<line x1="803.5" y1="105.4" x2="803.5" y2="537.4"/>
</g>
<text transform="translate(48.51 23.75) scale(0.910 1)" font-size="21.4" font-family="'Liberation Sans', sans-serif" font-weight="bold">A</text>
<text transform="translate(48.82 186.55) scale(0.840 1)" font-size="21.4" font-family="'Liberation Sans', sans-serif" font-weight="bold">B</text>
<text transform="translate(48.38 296.00) scale(0.840 1)" font-size="21.4" font-family="'Liberation Sans', sans-serif" font-weight="bold">C</text>
<text transform="translate(48.43 426.75) scale(0.990 1)" font-size="21.4" font-family="'Liberation Sans', sans-serif" font-weight="bold">D</text>
<text x="554.6" y="27.2" font-size="19.6" font-family="'Liberation Serif', serif" font-weight="bold" text-anchor="start" >Standard mixture</text>
<text x="507.0" y="195.6" font-size="19.6" font-family="'Liberation Serif', serif" font-weight="bold" text-anchor="start" >Irradiated glyoxylic acid (GA)</text>
<text x="515.5" y="304.2" font-size="19.6" font-family="'Liberation Serif', serif" font-weight="bold" text-anchor="start" >Irradiated pyruvic acid (PA)</text>
<text x="493.0" y="438.7" font-size="19.6" font-family="'Liberation Serif', serif" font-weight="bold" text-anchor="start" >Irradiated 2-ketobutyric acid (BA)</text>
<text x="198.0" y="27.4" font-size="19.6" font-family="'Liberation Serif', serif" font-weight="bold" text-anchor="start" >H<tspan font-size="13" dy="4.3">2</tspan><tspan dy="-4.3">O</tspan><tspan font-size="13" dy="4.3">2</tspan></text>
<text x="234.5" y="86.2" font-size="19.6" font-family="'Liberation Serif', serif" font-weight="bold" text-anchor="start" >PFA</text>
<text x="266.0" y="42.2" font-size="19.6" font-family="'Liberation Serif', serif" font-weight="bold" text-anchor="start" >MHP</text>
<text x="342.0" y="92.7" font-size="19.6" font-family="'Liberation Serif', serif" font-weight="bold" text-anchor="start" >PAA</text>
<text x="434.6" y="70.9" font-size="19.6" font-family="'Liberation Serif', serif" font-weight="bold" text-anchor="start" >EHP</text>
<text x="787.0" y="93.5" font-size="19.6" font-family="'Liberation Serif', serif" font-weight="bold" text-anchor="start" >PPA</text>
<text x="43.0" y="589.0" font-size="24.0" font-family="'Liberation Serif', serif" font-weight="normal" text-anchor="middle" >0</text>
<text x="145.7" y="589.0" font-size="24.0" font-family="'Liberation Serif', serif" font-weight="normal" text-anchor="middle" >2</text>
<text x="248.5" y="589.0" font-size="24.0" font-family="'Liberation Serif', serif" font-weight="normal" text-anchor="middle" >4</text>
<text x="351.2" y="589.0" font-size="24.0" font-family="'Liberation Serif', serif" font-weight="normal" text-anchor="middle" >6</text>
<text x="454.0" y="589.0" font-size="24.0" font-family="'Liberation Serif', serif" font-weight="normal" text-anchor="middle" >8</text>
<text x="556.7" y="589.0" font-size="24.0" font-family="'Liberation Serif', serif" font-weight="normal" text-anchor="middle" >10</text>
<text x="659.4" y="589.0" font-size="24.0" font-family="'Liberation Serif', serif" font-weight="normal" text-anchor="middle" >12</text>
<text x="762.2" y="589.0" font-size="24.0" font-family="'Liberation Serif', serif" font-weight="normal" text-anchor="middle" >14</text>
<text x="864.9" y="589.0" font-size="24.0" font-family="'Liberation Serif', serif" font-weight="normal" text-anchor="middle" >16</text>
<text x="453.6" y="624.9" font-size="29.7" font-family="'Liberation Serif', serif" font-weight="normal" text-anchor="middle" >Retention time (min)</text>
<text transform="translate(21.8 250.8) rotate(-90)" x="0" y="0" font-size="29.7" font-family="'Liberation Serif', serif" font-weight="normal" text-anchor="middle">FLU intensity</text>
</svg>
</body></html>
